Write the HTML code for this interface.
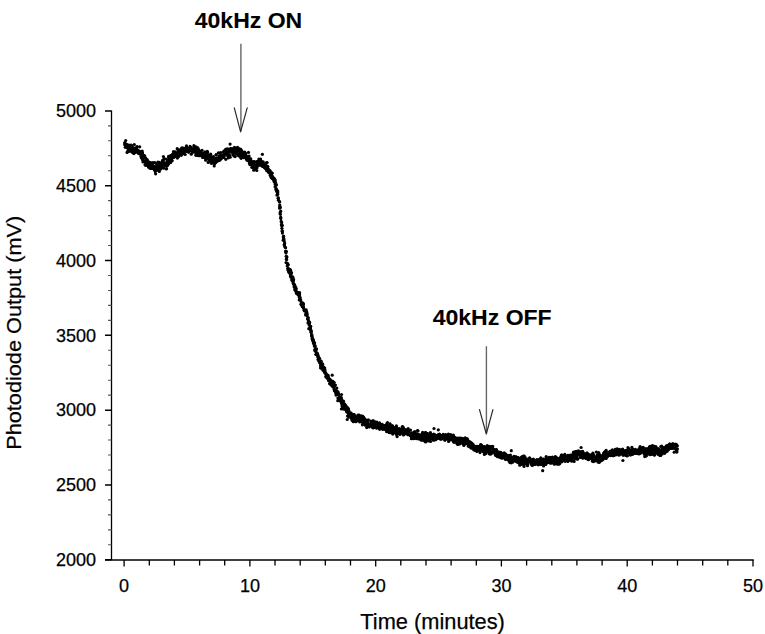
<!DOCTYPE html>
<html><head><meta charset="utf-8"><style>
html,body{margin:0;padding:0;background:#fff;}
svg{display:block;}
text{font-family:"Liberation Sans",Arial,sans-serif;fill:#000;stroke:#000;stroke-width:0.25px;}
.b{stroke-width:0.1px;}
</style></head><body>
<svg width="765" height="634" viewBox="0 0 765 634">
<rect width="765" height="634" fill="#fff"/>
<g stroke="#000" fill="none">
<path d="M111.5,110.5V560" stroke-width="1.3"/>
<path d="M105,560H753.8" stroke-width="1.7"/>
<path d="M105,559.75H111.5 M105,484.94H111.5 M105,410.13H111.5 M105,335.32H111.5 M105,260.52H111.5 M105,185.71H111.5 M105,110.90H111.5" stroke-width="1.5"/>
<path d="M108,544.79H111.5 M108,529.83H111.5 M108,514.87H111.5 M108,499.90H111.5 M108,469.98H111.5 M108,455.02H111.5 M108,440.06H111.5 M108,425.10H111.5 M108,395.17H111.5 M108,380.21H111.5 M108,365.25H111.5 M108,350.29H111.5 M108,320.36H111.5 M108,305.40H111.5 M108,290.44H111.5 M108,275.48H111.5 M108,245.56H111.5 M108,230.59H111.5 M108,215.63H111.5 M108,200.67H111.5 M108,170.75H111.5 M108,155.79H111.5 M108,140.82H111.5 M108,125.86H111.5" stroke-width="1.1" stroke="#555"/>
<path d="M124.1,560V566.5 M149.3,560V565.5 M174.4,560V565.5 M199.6,560V565.5 M224.7,560V565.5 M249.9,560V566.5 M275.0,560V565.5 M300.2,560V565.5 M325.3,560V565.5 M350.5,560V565.5 M375.7,560V566.5 M400.8,560V565.5 M426.0,560V565.5 M451.1,560V565.5 M476.3,560V565.5 M501.4,560V566.5 M526.6,560V565.5 M551.8,560V565.5 M576.9,560V565.5 M602.1,560V565.5 M627.2,560V566.5 M652.4,560V565.5 M677.5,560V565.5 M702.7,560V565.5 M727.8,560V565.5 M753.0,560V566.5" stroke-width="1.3"/>
</g>
<g font-size="18" text-anchor="end"><text x="96" y="566.0">2000</text><text x="96" y="491.2">2500</text><text x="96" y="416.4">3000</text><text x="96" y="341.6">3500</text><text x="96" y="266.8">4000</text><text x="96" y="192.0">4500</text><text x="96" y="117.2">5000</text></g>
<g font-size="18" text-anchor="middle"><text x="124.1" y="591.7">0</text><text x="249.9" y="591.7">10</text><text x="375.7" y="591.7">20</text><text x="501.4" y="591.7">30</text><text x="627.2" y="591.7">40</text><text x="753.0" y="591.7">50</text></g>
<text x="432.6" y="628.5" font-size="21.8" text-anchor="middle">Time (minutes)</text>
<text transform="translate(20.7,332.8) rotate(-90)" font-size="20.8" text-anchor="middle" textLength="234" lengthAdjust="spacingAndGlyphs">Photodiode Output (mV)</text>
<text class="b" x="248.5" y="27.7" font-size="22.8" font-weight="bold" text-anchor="middle" textLength="107.5" lengthAdjust="spacingAndGlyphs">40kHz ON</text>
<text class="b" x="492.2" y="324.6" font-size="22.8" font-weight="bold" text-anchor="middle" textLength="119" lengthAdjust="spacingAndGlyphs">40kHz OFF</text>
<g stroke="#666" stroke-width="1.4" fill="none">
<path d="M240.9,43.8V131"/>
<path d="M486.4,346.2V433"/>
</g>
<g stroke="#2a2a2a" stroke-width="1.2" fill="none" stroke-linejoin="round" stroke-linecap="round">
<path d="M234.3,107.8L240.6,131.8L247.2,107.8"/>
<path d="M479.5,409.6L486.3,434.0L492.9,409.6"/>
</g>
<g fill="#000"><circle cx="124.7" cy="144.8" r="1.6"/><circle cx="124.9" cy="142.7" r="1.6"/><circle cx="124.8" cy="143.1" r="1.6"/><circle cx="125.8" cy="145.0" r="1.6"/><circle cx="126.0" cy="144.9" r="1.6"/><circle cx="126.0" cy="145.1" r="1.6"/><circle cx="125.3" cy="147.3" r="1.6"/><circle cx="126.4" cy="146.6" r="1.6"/><circle cx="125.7" cy="140.5" r="1.6"/><circle cx="126.2" cy="144.5" r="1.6"/><circle cx="126.9" cy="146.0" r="1.6"/><circle cx="127.2" cy="144.5" r="1.6"/><circle cx="127.3" cy="148.0" r="1.6"/><circle cx="127.1" cy="152.4" r="1.6"/><circle cx="127.8" cy="151.0" r="1.6"/><circle cx="127.6" cy="145.3" r="1.6"/><circle cx="127.9" cy="147.3" r="1.6"/><circle cx="128.5" cy="148.5" r="1.6"/><circle cx="128.2" cy="145.5" r="1.6"/><circle cx="128.4" cy="151.1" r="1.6"/><circle cx="128.5" cy="148.8" r="1.6"/><circle cx="129.2" cy="145.1" r="1.6"/><circle cx="129.2" cy="151.3" r="1.6"/><circle cx="128.6" cy="148.1" r="1.6"/><circle cx="129.6" cy="147.2" r="1.6"/><circle cx="130.0" cy="148.7" r="1.6"/><circle cx="129.4" cy="150.5" r="1.6"/><circle cx="130.5" cy="150.8" r="1.6"/><circle cx="131.0" cy="149.9" r="1.6"/><circle cx="130.6" cy="147.0" r="1.6"/><circle cx="131.0" cy="148.4" r="1.6"/><circle cx="130.8" cy="147.3" r="1.6"/><circle cx="130.8" cy="148.8" r="1.6"/><circle cx="131.9" cy="146.0" r="1.6"/><circle cx="131.0" cy="150.3" r="1.6"/><circle cx="132.4" cy="151.0" r="1.6"/><circle cx="131.2" cy="145.0" r="1.6"/><circle cx="132.3" cy="148.1" r="1.6"/><circle cx="132.0" cy="151.9" r="1.6"/><circle cx="133.0" cy="149.9" r="1.6"/><circle cx="132.9" cy="150.5" r="1.6"/><circle cx="133.6" cy="150.9" r="1.6"/><circle cx="133.4" cy="150.7" r="1.6"/><circle cx="132.8" cy="152.6" r="1.6"/><circle cx="134.0" cy="150.7" r="1.6"/><circle cx="133.0" cy="147.6" r="1.6"/><circle cx="134.3" cy="144.5" r="1.6"/><circle cx="134.1" cy="152.0" r="1.6"/><circle cx="133.9" cy="153.6" r="1.6"/><circle cx="134.8" cy="148.8" r="1.6"/><circle cx="134.9" cy="151.0" r="1.6"/><circle cx="135.0" cy="152.4" r="1.6"/><circle cx="134.9" cy="148.1" r="1.6"/><circle cx="135.8" cy="149.4" r="1.6"/><circle cx="135.2" cy="152.0" r="1.6"/><circle cx="136.4" cy="148.3" r="1.6"/><circle cx="135.4" cy="149.3" r="1.6"/><circle cx="136.1" cy="148.9" r="1.6"/><circle cx="137.0" cy="147.1" r="1.6"/><circle cx="137.1" cy="146.5" r="1.6"/><circle cx="136.5" cy="151.6" r="1.6"/><circle cx="137.5" cy="152.3" r="1.6"/><circle cx="137.3" cy="150.6" r="1.6"/><circle cx="137.5" cy="151.8" r="1.6"/><circle cx="137.5" cy="151.2" r="1.6"/><circle cx="138.0" cy="150.7" r="1.6"/><circle cx="138.3" cy="152.2" r="1.6"/><circle cx="139.0" cy="151.8" r="1.6"/><circle cx="138.2" cy="150.3" r="1.6"/><circle cx="138.6" cy="153.4" r="1.6"/><circle cx="138.7" cy="152.3" r="1.6"/><circle cx="139.7" cy="146.8" r="1.6"/><circle cx="138.8" cy="152.3" r="1.6"/><circle cx="139.6" cy="152.5" r="1.6"/><circle cx="139.4" cy="153.7" r="1.6"/><circle cx="139.9" cy="151.5" r="1.6"/><circle cx="141.0" cy="153.7" r="1.6"/><circle cx="140.0" cy="153.1" r="1.6"/><circle cx="140.3" cy="153.5" r="1.6"/><circle cx="139.5" cy="152.9" r="1.6"/><circle cx="141.2" cy="151.7" r="1.6"/><circle cx="141.0" cy="156.6" r="1.6"/><circle cx="141.5" cy="158.0" r="1.6"/><circle cx="140.7" cy="154.4" r="1.6"/><circle cx="141.5" cy="156.8" r="1.6"/><circle cx="142.2" cy="151.1" r="1.6"/><circle cx="142.4" cy="152.9" r="1.6"/><circle cx="142.5" cy="153.1" r="1.6"/><circle cx="142.5" cy="159.7" r="1.6"/><circle cx="142.5" cy="157.7" r="1.6"/><circle cx="143.1" cy="157.9" r="1.6"/><circle cx="143.0" cy="161.9" r="1.6"/><circle cx="143.6" cy="157.5" r="1.6"/><circle cx="144.5" cy="155.5" r="1.6"/><circle cx="144.0" cy="158.2" r="1.6"/><circle cx="143.9" cy="161.3" r="1.6"/><circle cx="144.1" cy="161.5" r="1.6"/><circle cx="143.6" cy="155.5" r="1.6"/><circle cx="144.6" cy="157.3" r="1.6"/><circle cx="144.2" cy="156.1" r="1.6"/><circle cx="145.3" cy="162.4" r="1.6"/><circle cx="145.6" cy="158.0" r="1.6"/><circle cx="145.2" cy="157.7" r="1.6"/><circle cx="145.7" cy="165.0" r="1.6"/><circle cx="145.2" cy="165.0" r="1.6"/><circle cx="146.2" cy="160.8" r="1.6"/><circle cx="145.2" cy="164.8" r="1.6"/><circle cx="146.2" cy="160.1" r="1.6"/><circle cx="146.6" cy="162.7" r="1.6"/><circle cx="147.2" cy="159.6" r="1.6"/><circle cx="147.3" cy="165.4" r="1.6"/><circle cx="147.6" cy="161.9" r="1.6"/><circle cx="146.9" cy="164.8" r="1.6"/><circle cx="147.4" cy="162.9" r="1.6"/><circle cx="148.2" cy="162.2" r="1.6"/><circle cx="146.9" cy="162.1" r="1.6"/><circle cx="147.3" cy="165.1" r="1.6"/><circle cx="148.3" cy="162.0" r="1.6"/><circle cx="148.4" cy="165.5" r="1.6"/><circle cx="148.6" cy="166.8" r="1.6"/><circle cx="148.8" cy="166.4" r="1.6"/><circle cx="149.6" cy="167.9" r="1.6"/><circle cx="148.9" cy="166.4" r="1.6"/><circle cx="148.6" cy="161.9" r="1.6"/><circle cx="148.8" cy="167.2" r="1.6"/><circle cx="149.3" cy="164.8" r="1.6"/><circle cx="149.9" cy="164.9" r="1.6"/><circle cx="150.0" cy="165.7" r="1.6"/><circle cx="151.1" cy="165.5" r="1.6"/><circle cx="150.8" cy="168.0" r="1.6"/><circle cx="150.7" cy="162.7" r="1.6"/><circle cx="150.8" cy="168.5" r="1.6"/><circle cx="150.5" cy="164.6" r="1.6"/><circle cx="151.8" cy="168.2" r="1.6"/><circle cx="151.6" cy="168.5" r="1.6"/><circle cx="151.9" cy="163.7" r="1.6"/><circle cx="151.4" cy="165.2" r="1.6"/><circle cx="152.6" cy="165.6" r="1.6"/><circle cx="152.0" cy="165.2" r="1.6"/><circle cx="152.0" cy="166.9" r="1.6"/><circle cx="152.3" cy="168.2" r="1.6"/><circle cx="152.1" cy="168.2" r="1.6"/><circle cx="152.9" cy="162.5" r="1.6"/><circle cx="153.7" cy="166.8" r="1.6"/><circle cx="152.7" cy="165.4" r="1.6"/><circle cx="153.9" cy="166.5" r="1.6"/><circle cx="154.3" cy="169.7" r="1.6"/><circle cx="154.5" cy="168.7" r="1.6"/><circle cx="154.9" cy="169.7" r="1.6"/><circle cx="154.8" cy="162.6" r="1.6"/><circle cx="155.2" cy="171.6" r="1.6"/><circle cx="154.9" cy="167.0" r="1.6"/><circle cx="156.0" cy="163.5" r="1.6"/><circle cx="155.6" cy="173.8" r="1.6"/><circle cx="155.2" cy="169.8" r="1.6"/><circle cx="156.6" cy="167.6" r="1.6"/><circle cx="156.2" cy="170.2" r="1.6"/><circle cx="155.8" cy="167.6" r="1.6"/><circle cx="156.5" cy="169.8" r="1.6"/><circle cx="156.6" cy="167.2" r="1.6"/><circle cx="156.4" cy="166.8" r="1.6"/><circle cx="157.4" cy="167.8" r="1.6"/><circle cx="156.9" cy="165.5" r="1.6"/><circle cx="158.5" cy="170.2" r="1.6"/><circle cx="157.9" cy="162.1" r="1.6"/><circle cx="158.0" cy="168.5" r="1.6"/><circle cx="158.7" cy="168.3" r="1.6"/><circle cx="158.2" cy="168.4" r="1.6"/><circle cx="157.6" cy="169.6" r="1.6"/><circle cx="158.7" cy="165.1" r="1.6"/><circle cx="159.3" cy="171.4" r="1.6"/><circle cx="158.4" cy="164.9" r="1.6"/><circle cx="159.3" cy="167.0" r="1.6"/><circle cx="159.2" cy="163.8" r="1.6"/><circle cx="160.4" cy="169.1" r="1.6"/><circle cx="159.3" cy="162.4" r="1.6"/><circle cx="160.7" cy="168.8" r="1.6"/><circle cx="160.9" cy="168.2" r="1.6"/><circle cx="160.1" cy="166.5" r="1.6"/><circle cx="159.7" cy="163.5" r="1.6"/><circle cx="160.8" cy="167.0" r="1.6"/><circle cx="160.7" cy="165.0" r="1.6"/><circle cx="161.4" cy="166.3" r="1.6"/><circle cx="161.7" cy="165.7" r="1.6"/><circle cx="161.5" cy="167.3" r="1.6"/><circle cx="161.8" cy="162.3" r="1.6"/><circle cx="161.7" cy="164.7" r="1.6"/><circle cx="162.2" cy="165.0" r="1.6"/><circle cx="162.4" cy="164.9" r="1.6"/><circle cx="162.5" cy="160.4" r="1.6"/><circle cx="163.0" cy="167.3" r="1.6"/><circle cx="163.2" cy="163.4" r="1.6"/><circle cx="163.4" cy="160.9" r="1.6"/><circle cx="162.6" cy="163.9" r="1.6"/><circle cx="163.2" cy="165.8" r="1.6"/><circle cx="163.4" cy="156.5" r="1.6"/><circle cx="163.6" cy="168.2" r="1.6"/><circle cx="164.0" cy="158.7" r="1.6"/><circle cx="164.1" cy="164.5" r="1.6"/><circle cx="164.8" cy="163.3" r="1.6"/><circle cx="165.4" cy="164.8" r="1.6"/><circle cx="165.0" cy="164.4" r="1.6"/><circle cx="165.9" cy="165.5" r="1.6"/><circle cx="165.8" cy="159.0" r="1.6"/><circle cx="165.5" cy="164.6" r="1.6"/><circle cx="165.7" cy="165.6" r="1.6"/><circle cx="166.2" cy="165.1" r="1.6"/><circle cx="166.1" cy="168.8" r="1.6"/><circle cx="166.9" cy="161.8" r="1.6"/><circle cx="166.6" cy="168.7" r="1.6"/><circle cx="166.7" cy="164.9" r="1.6"/><circle cx="167.4" cy="162.5" r="1.6"/><circle cx="166.7" cy="163.1" r="1.6"/><circle cx="167.5" cy="165.6" r="1.6"/><circle cx="167.9" cy="162.5" r="1.6"/><circle cx="168.1" cy="163.9" r="1.6"/><circle cx="168.1" cy="162.5" r="1.6"/><circle cx="168.1" cy="164.2" r="1.6"/><circle cx="168.0" cy="160.4" r="1.6"/><circle cx="168.6" cy="158.0" r="1.6"/><circle cx="168.6" cy="156.4" r="1.6"/><circle cx="168.7" cy="163.4" r="1.6"/><circle cx="169.4" cy="161.5" r="1.6"/><circle cx="169.3" cy="157.7" r="1.6"/><circle cx="170.3" cy="162.5" r="1.6"/><circle cx="170.2" cy="158.8" r="1.6"/><circle cx="169.9" cy="156.3" r="1.6"/><circle cx="170.5" cy="162.6" r="1.6"/><circle cx="169.6" cy="160.0" r="1.6"/><circle cx="170.9" cy="155.7" r="1.6"/><circle cx="170.1" cy="157.0" r="1.6"/><circle cx="170.7" cy="155.9" r="1.6"/><circle cx="171.2" cy="159.4" r="1.6"/><circle cx="171.7" cy="160.1" r="1.6"/><circle cx="172.2" cy="160.8" r="1.6"/><circle cx="171.3" cy="156.9" r="1.6"/><circle cx="171.6" cy="155.5" r="1.6"/><circle cx="172.2" cy="157.7" r="1.6"/><circle cx="172.6" cy="154.0" r="1.6"/><circle cx="172.1" cy="157.3" r="1.6"/><circle cx="172.7" cy="156.5" r="1.6"/><circle cx="173.0" cy="155.3" r="1.6"/><circle cx="173.5" cy="157.5" r="1.6"/><circle cx="173.4" cy="155.2" r="1.6"/><circle cx="173.5" cy="151.7" r="1.6"/><circle cx="173.4" cy="156.3" r="1.6"/><circle cx="173.4" cy="156.4" r="1.6"/><circle cx="174.3" cy="153.0" r="1.6"/><circle cx="174.3" cy="155.0" r="1.6"/><circle cx="174.8" cy="156.8" r="1.6"/><circle cx="174.8" cy="153.5" r="1.6"/><circle cx="174.9" cy="155.0" r="1.6"/><circle cx="175.5" cy="155.6" r="1.6"/><circle cx="175.1" cy="151.9" r="1.6"/><circle cx="175.5" cy="153.0" r="1.6"/><circle cx="175.4" cy="154.2" r="1.6"/><circle cx="175.8" cy="154.5" r="1.6"/><circle cx="176.4" cy="153.2" r="1.6"/><circle cx="177.3" cy="153.2" r="1.6"/><circle cx="177.0" cy="154.0" r="1.6"/><circle cx="177.2" cy="148.7" r="1.6"/><circle cx="176.7" cy="153.9" r="1.6"/><circle cx="177.4" cy="158.1" r="1.6"/><circle cx="177.5" cy="155.8" r="1.6"/><circle cx="177.9" cy="154.9" r="1.6"/><circle cx="178.0" cy="152.4" r="1.6"/><circle cx="178.2" cy="150.2" r="1.6"/><circle cx="178.7" cy="150.2" r="1.6"/><circle cx="178.5" cy="156.7" r="1.6"/><circle cx="178.5" cy="152.1" r="1.6"/><circle cx="179.3" cy="152.0" r="1.6"/><circle cx="178.7" cy="152.3" r="1.6"/><circle cx="179.4" cy="153.1" r="1.6"/><circle cx="179.1" cy="155.0" r="1.6"/><circle cx="180.3" cy="151.3" r="1.6"/><circle cx="179.9" cy="150.3" r="1.6"/><circle cx="180.6" cy="149.6" r="1.6"/><circle cx="180.5" cy="150.0" r="1.6"/><circle cx="180.1" cy="152.4" r="1.6"/><circle cx="181.1" cy="151.0" r="1.6"/><circle cx="180.5" cy="152.6" r="1.6"/><circle cx="181.0" cy="151.6" r="1.6"/><circle cx="181.8" cy="153.2" r="1.6"/><circle cx="181.2" cy="155.3" r="1.6"/><circle cx="181.6" cy="152.5" r="1.6"/><circle cx="181.5" cy="150.9" r="1.6"/><circle cx="181.3" cy="154.5" r="1.6"/><circle cx="182.7" cy="148.6" r="1.6"/><circle cx="181.8" cy="147.8" r="1.6"/><circle cx="183.1" cy="150.0" r="1.6"/><circle cx="182.8" cy="150.3" r="1.6"/><circle cx="183.0" cy="148.8" r="1.6"/><circle cx="183.2" cy="148.0" r="1.6"/><circle cx="183.4" cy="151.4" r="1.6"/><circle cx="183.8" cy="150.2" r="1.6"/><circle cx="183.4" cy="150.9" r="1.6"/><circle cx="183.8" cy="153.7" r="1.6"/><circle cx="184.5" cy="150.1" r="1.6"/><circle cx="184.2" cy="148.8" r="1.6"/><circle cx="184.2" cy="149.5" r="1.6"/><circle cx="184.9" cy="151.2" r="1.6"/><circle cx="185.2" cy="154.5" r="1.6"/><circle cx="184.9" cy="150.0" r="1.6"/><circle cx="186.5" cy="145.9" r="1.6"/><circle cx="185.4" cy="150.1" r="1.6"/><circle cx="185.9" cy="150.6" r="1.6"/><circle cx="185.9" cy="150.4" r="1.6"/><circle cx="186.2" cy="151.3" r="1.6"/><circle cx="185.6" cy="147.8" r="1.6"/><circle cx="186.6" cy="147.5" r="1.6"/><circle cx="186.4" cy="150.9" r="1.6"/><circle cx="186.7" cy="150.9" r="1.6"/><circle cx="187.5" cy="150.2" r="1.6"/><circle cx="187.6" cy="149.4" r="1.6"/><circle cx="187.0" cy="149.5" r="1.6"/><circle cx="188.0" cy="148.5" r="1.6"/><circle cx="188.0" cy="151.0" r="1.6"/><circle cx="187.8" cy="150.7" r="1.6"/><circle cx="189.1" cy="148.5" r="1.6"/><circle cx="188.7" cy="149.2" r="1.6"/><circle cx="189.4" cy="150.1" r="1.6"/><circle cx="189.4" cy="148.3" r="1.6"/><circle cx="189.2" cy="149.6" r="1.6"/><circle cx="188.7" cy="152.3" r="1.6"/><circle cx="190.0" cy="146.4" r="1.6"/><circle cx="190.1" cy="149.4" r="1.6"/><circle cx="190.2" cy="150.4" r="1.6"/><circle cx="189.6" cy="149.4" r="1.6"/><circle cx="191.0" cy="148.7" r="1.6"/><circle cx="190.2" cy="147.2" r="1.6"/><circle cx="190.3" cy="150.5" r="1.6"/><circle cx="191.7" cy="150.7" r="1.6"/><circle cx="191.3" cy="154.2" r="1.6"/><circle cx="191.2" cy="148.7" r="1.6"/><circle cx="191.8" cy="151.1" r="1.6"/><circle cx="191.4" cy="147.7" r="1.6"/><circle cx="192.1" cy="150.5" r="1.6"/><circle cx="191.7" cy="149.6" r="1.6"/><circle cx="192.2" cy="151.0" r="1.6"/><circle cx="192.6" cy="149.9" r="1.6"/><circle cx="192.7" cy="152.2" r="1.6"/><circle cx="193.6" cy="149.3" r="1.6"/><circle cx="193.5" cy="148.5" r="1.6"/><circle cx="193.4" cy="151.7" r="1.6"/><circle cx="194.2" cy="149.3" r="1.6"/><circle cx="193.8" cy="150.5" r="1.6"/><circle cx="193.4" cy="150.1" r="1.6"/><circle cx="193.9" cy="150.9" r="1.6"/><circle cx="193.9" cy="145.7" r="1.6"/><circle cx="194.6" cy="150.7" r="1.6"/><circle cx="194.6" cy="152.1" r="1.6"/><circle cx="194.9" cy="148.9" r="1.6"/><circle cx="195.4" cy="146.9" r="1.6"/><circle cx="195.1" cy="150.4" r="1.6"/><circle cx="195.9" cy="150.2" r="1.6"/><circle cx="195.9" cy="149.3" r="1.6"/><circle cx="196.1" cy="154.1" r="1.6"/><circle cx="195.9" cy="155.3" r="1.6"/><circle cx="196.1" cy="151.0" r="1.6"/><circle cx="196.7" cy="153.0" r="1.6"/><circle cx="196.3" cy="147.1" r="1.6"/><circle cx="197.2" cy="152.7" r="1.6"/><circle cx="197.4" cy="155.4" r="1.6"/><circle cx="197.5" cy="151.9" r="1.6"/><circle cx="198.0" cy="152.2" r="1.6"/><circle cx="198.5" cy="149.4" r="1.6"/><circle cx="197.8" cy="147.8" r="1.6"/><circle cx="198.5" cy="151.2" r="1.6"/><circle cx="198.8" cy="155.7" r="1.6"/><circle cx="198.6" cy="151.6" r="1.6"/><circle cx="198.6" cy="150.7" r="1.6"/><circle cx="198.7" cy="153.4" r="1.6"/><circle cx="199.2" cy="152.5" r="1.6"/><circle cx="199.3" cy="154.0" r="1.6"/><circle cx="199.8" cy="152.4" r="1.6"/><circle cx="200.1" cy="152.5" r="1.6"/><circle cx="199.5" cy="155.2" r="1.6"/><circle cx="200.4" cy="151.4" r="1.6"/><circle cx="200.8" cy="153.6" r="1.6"/><circle cx="200.0" cy="155.7" r="1.6"/><circle cx="200.9" cy="154.7" r="1.6"/><circle cx="201.1" cy="153.2" r="1.6"/><circle cx="200.6" cy="155.2" r="1.6"/><circle cx="201.4" cy="153.2" r="1.6"/><circle cx="201.7" cy="153.9" r="1.6"/><circle cx="202.1" cy="153.3" r="1.6"/><circle cx="202.0" cy="150.3" r="1.6"/><circle cx="202.0" cy="155.4" r="1.6"/><circle cx="202.9" cy="153.7" r="1.6"/><circle cx="202.6" cy="157.4" r="1.6"/><circle cx="202.7" cy="156.0" r="1.6"/><circle cx="203.7" cy="154.8" r="1.6"/><circle cx="203.7" cy="153.5" r="1.6"/><circle cx="203.5" cy="154.8" r="1.6"/><circle cx="203.6" cy="157.3" r="1.6"/><circle cx="204.8" cy="153.8" r="1.6"/><circle cx="203.8" cy="156.1" r="1.6"/><circle cx="203.8" cy="156.2" r="1.6"/><circle cx="204.6" cy="154.7" r="1.6"/><circle cx="204.8" cy="152.1" r="1.6"/><circle cx="205.1" cy="152.2" r="1.6"/><circle cx="204.7" cy="154.2" r="1.6"/><circle cx="205.0" cy="157.2" r="1.6"/><circle cx="205.4" cy="154.6" r="1.6"/><circle cx="205.8" cy="158.8" r="1.6"/><circle cx="205.8" cy="156.3" r="1.6"/><circle cx="206.5" cy="156.1" r="1.6"/><circle cx="205.7" cy="160.2" r="1.6"/><circle cx="207.3" cy="151.4" r="1.6"/><circle cx="206.6" cy="156.6" r="1.6"/><circle cx="207.2" cy="157.4" r="1.6"/><circle cx="206.9" cy="153.8" r="1.6"/><circle cx="207.2" cy="158.5" r="1.6"/><circle cx="207.0" cy="154.2" r="1.6"/><circle cx="207.6" cy="152.4" r="1.6"/><circle cx="207.7" cy="155.9" r="1.6"/><circle cx="208.2" cy="155.5" r="1.6"/><circle cx="207.8" cy="156.3" r="1.6"/><circle cx="208.4" cy="155.9" r="1.6"/><circle cx="208.6" cy="159.2" r="1.6"/><circle cx="209.3" cy="161.5" r="1.6"/><circle cx="208.7" cy="157.0" r="1.6"/><circle cx="208.2" cy="162.4" r="1.6"/><circle cx="209.1" cy="158.2" r="1.6"/><circle cx="209.8" cy="155.3" r="1.6"/><circle cx="210.0" cy="158.4" r="1.6"/><circle cx="209.3" cy="159.2" r="1.6"/><circle cx="210.7" cy="154.2" r="1.6"/><circle cx="210.7" cy="159.1" r="1.6"/><circle cx="210.8" cy="159.8" r="1.6"/><circle cx="211.3" cy="158.2" r="1.6"/><circle cx="211.3" cy="157.9" r="1.6"/><circle cx="211.5" cy="156.9" r="1.6"/><circle cx="211.4" cy="163.3" r="1.6"/><circle cx="211.8" cy="158.7" r="1.6"/><circle cx="211.3" cy="157.1" r="1.6"/><circle cx="212.1" cy="161.6" r="1.6"/><circle cx="212.4" cy="160.6" r="1.6"/><circle cx="212.4" cy="162.9" r="1.6"/><circle cx="212.4" cy="158.0" r="1.6"/><circle cx="213.2" cy="159.7" r="1.6"/><circle cx="212.9" cy="158.1" r="1.6"/><circle cx="213.1" cy="161.3" r="1.6"/><circle cx="213.5" cy="156.6" r="1.6"/><circle cx="213.8" cy="160.3" r="1.6"/><circle cx="213.4" cy="161.9" r="1.6"/><circle cx="213.9" cy="159.1" r="1.6"/><circle cx="214.5" cy="163.5" r="1.6"/><circle cx="214.1" cy="161.3" r="1.6"/><circle cx="214.2" cy="166.0" r="1.6"/><circle cx="214.6" cy="163.4" r="1.6"/><circle cx="214.7" cy="162.5" r="1.6"/><circle cx="216.1" cy="154.7" r="1.6"/><circle cx="215.2" cy="161.7" r="1.6"/><circle cx="215.6" cy="158.5" r="1.6"/><circle cx="216.7" cy="160.3" r="1.6"/><circle cx="215.3" cy="162.2" r="1.6"/><circle cx="215.5" cy="162.8" r="1.6"/><circle cx="216.2" cy="160.0" r="1.6"/><circle cx="217.1" cy="159.8" r="1.6"/><circle cx="216.2" cy="155.0" r="1.6"/><circle cx="217.5" cy="161.1" r="1.6"/><circle cx="216.9" cy="161.3" r="1.6"/><circle cx="217.6" cy="160.6" r="1.6"/><circle cx="216.7" cy="158.0" r="1.6"/><circle cx="218.2" cy="160.5" r="1.6"/><circle cx="218.4" cy="152.8" r="1.6"/><circle cx="218.3" cy="159.6" r="1.6"/><circle cx="219.4" cy="155.8" r="1.6"/><circle cx="218.5" cy="158.2" r="1.6"/><circle cx="219.2" cy="157.0" r="1.6"/><circle cx="219.5" cy="156.1" r="1.6"/><circle cx="219.3" cy="156.7" r="1.6"/><circle cx="219.5" cy="156.2" r="1.6"/><circle cx="219.0" cy="160.4" r="1.6"/><circle cx="219.9" cy="156.4" r="1.6"/><circle cx="220.1" cy="160.0" r="1.6"/><circle cx="219.8" cy="157.3" r="1.6"/><circle cx="220.6" cy="158.7" r="1.6"/><circle cx="220.5" cy="152.7" r="1.6"/><circle cx="221.3" cy="158.1" r="1.6"/><circle cx="221.0" cy="156.7" r="1.6"/><circle cx="221.3" cy="156.3" r="1.6"/><circle cx="221.0" cy="155.5" r="1.6"/><circle cx="221.4" cy="155.6" r="1.6"/><circle cx="221.3" cy="158.2" r="1.6"/><circle cx="221.5" cy="158.1" r="1.6"/><circle cx="221.8" cy="157.3" r="1.6"/><circle cx="222.9" cy="156.8" r="1.6"/><circle cx="222.3" cy="156.3" r="1.6"/><circle cx="222.9" cy="152.2" r="1.6"/><circle cx="222.8" cy="156.3" r="1.6"/><circle cx="223.0" cy="156.0" r="1.6"/><circle cx="223.7" cy="157.4" r="1.6"/><circle cx="224.0" cy="156.8" r="1.6"/><circle cx="223.7" cy="155.3" r="1.6"/><circle cx="223.9" cy="154.5" r="1.6"/><circle cx="224.1" cy="151.2" r="1.6"/><circle cx="224.3" cy="154.9" r="1.6"/><circle cx="224.2" cy="154.7" r="1.6"/><circle cx="225.0" cy="154.3" r="1.6"/><circle cx="225.8" cy="149.5" r="1.6"/><circle cx="225.1" cy="150.2" r="1.6"/><circle cx="225.8" cy="159.3" r="1.6"/><circle cx="224.6" cy="154.5" r="1.6"/><circle cx="226.0" cy="153.4" r="1.6"/><circle cx="226.2" cy="149.0" r="1.6"/><circle cx="226.5" cy="154.8" r="1.6"/><circle cx="226.4" cy="152.5" r="1.6"/><circle cx="226.9" cy="152.7" r="1.6"/><circle cx="226.9" cy="152.5" r="1.6"/><circle cx="226.1" cy="153.5" r="1.6"/><circle cx="227.3" cy="155.2" r="1.6"/><circle cx="227.0" cy="153.4" r="1.6"/><circle cx="227.8" cy="153.7" r="1.6"/><circle cx="228.3" cy="157.8" r="1.6"/><circle cx="227.6" cy="148.8" r="1.6"/><circle cx="228.5" cy="156.6" r="1.6"/><circle cx="228.8" cy="154.8" r="1.6"/><circle cx="228.4" cy="151.1" r="1.6"/><circle cx="229.2" cy="150.4" r="1.6"/><circle cx="228.3" cy="150.0" r="1.6"/><circle cx="230.2" cy="157.2" r="1.6"/><circle cx="229.1" cy="150.2" r="1.6"/><circle cx="229.7" cy="149.9" r="1.6"/><circle cx="230.3" cy="151.6" r="1.6"/><circle cx="229.6" cy="155.3" r="1.6"/><circle cx="230.0" cy="152.1" r="1.6"/><circle cx="230.4" cy="150.3" r="1.6"/><circle cx="230.7" cy="149.0" r="1.6"/><circle cx="230.1" cy="144.1" r="1.6"/><circle cx="230.5" cy="148.6" r="1.6"/><circle cx="231.2" cy="151.1" r="1.6"/><circle cx="231.6" cy="151.3" r="1.6"/><circle cx="231.3" cy="148.8" r="1.6"/><circle cx="231.0" cy="150.4" r="1.6"/><circle cx="232.2" cy="152.5" r="1.6"/><circle cx="232.2" cy="150.4" r="1.6"/><circle cx="232.8" cy="151.0" r="1.6"/><circle cx="232.9" cy="152.6" r="1.6"/><circle cx="232.9" cy="154.7" r="1.6"/><circle cx="232.8" cy="149.9" r="1.6"/><circle cx="232.9" cy="148.7" r="1.6"/><circle cx="234.0" cy="155.9" r="1.6"/><circle cx="233.6" cy="152.5" r="1.6"/><circle cx="234.3" cy="153.2" r="1.6"/><circle cx="234.5" cy="147.4" r="1.6"/><circle cx="233.9" cy="152.2" r="1.6"/><circle cx="235.0" cy="151.2" r="1.6"/><circle cx="234.3" cy="150.0" r="1.6"/><circle cx="234.5" cy="148.6" r="1.6"/><circle cx="235.6" cy="149.2" r="1.6"/><circle cx="235.2" cy="156.6" r="1.6"/><circle cx="235.9" cy="151.8" r="1.6"/><circle cx="235.4" cy="152.0" r="1.6"/><circle cx="236.4" cy="152.5" r="1.6"/><circle cx="236.5" cy="151.1" r="1.6"/><circle cx="236.4" cy="150.4" r="1.6"/><circle cx="236.6" cy="154.1" r="1.6"/><circle cx="236.0" cy="150.7" r="1.6"/><circle cx="236.9" cy="149.5" r="1.6"/><circle cx="236.9" cy="152.8" r="1.6"/><circle cx="238.0" cy="152.4" r="1.6"/><circle cx="237.5" cy="147.3" r="1.6"/><circle cx="238.4" cy="151.4" r="1.6"/><circle cx="237.8" cy="148.8" r="1.6"/><circle cx="238.0" cy="149.1" r="1.6"/><circle cx="238.2" cy="152.9" r="1.6"/><circle cx="238.4" cy="152.7" r="1.6"/><circle cx="238.3" cy="155.5" r="1.6"/><circle cx="238.5" cy="148.4" r="1.6"/><circle cx="238.9" cy="151.0" r="1.6"/><circle cx="238.8" cy="152.1" r="1.6"/><circle cx="239.5" cy="150.5" r="1.6"/><circle cx="239.5" cy="156.3" r="1.6"/><circle cx="240.1" cy="153.1" r="1.6"/><circle cx="240.1" cy="153.2" r="1.6"/><circle cx="240.2" cy="155.1" r="1.6"/><circle cx="240.4" cy="149.0" r="1.6"/><circle cx="240.6" cy="151.9" r="1.6"/><circle cx="241.1" cy="152.5" r="1.6"/><circle cx="241.1" cy="158.3" r="1.6"/><circle cx="240.8" cy="151.6" r="1.6"/><circle cx="240.8" cy="149.6" r="1.6"/><circle cx="240.8" cy="154.8" r="1.6"/><circle cx="241.5" cy="150.5" r="1.6"/><circle cx="241.4" cy="155.4" r="1.6"/><circle cx="241.9" cy="153.6" r="1.6"/><circle cx="242.5" cy="157.0" r="1.6"/><circle cx="243.4" cy="156.5" r="1.6"/><circle cx="242.9" cy="155.0" r="1.6"/><circle cx="243.7" cy="157.4" r="1.6"/><circle cx="243.1" cy="155.7" r="1.6"/><circle cx="243.5" cy="155.0" r="1.6"/><circle cx="243.4" cy="152.7" r="1.6"/><circle cx="243.6" cy="152.4" r="1.6"/><circle cx="244.5" cy="156.2" r="1.6"/><circle cx="243.7" cy="157.7" r="1.6"/><circle cx="244.8" cy="152.2" r="1.6"/><circle cx="245.3" cy="156.9" r="1.6"/><circle cx="245.6" cy="153.7" r="1.6"/><circle cx="245.2" cy="156.6" r="1.6"/><circle cx="245.3" cy="156.4" r="1.6"/><circle cx="245.8" cy="153.9" r="1.6"/><circle cx="245.1" cy="154.3" r="1.6"/><circle cx="245.6" cy="155.7" r="1.6"/><circle cx="246.1" cy="157.2" r="1.6"/><circle cx="246.2" cy="156.0" r="1.6"/><circle cx="246.2" cy="158.6" r="1.6"/><circle cx="246.9" cy="157.6" r="1.6"/><circle cx="246.7" cy="159.8" r="1.6"/><circle cx="246.8" cy="158.7" r="1.6"/><circle cx="247.7" cy="157.6" r="1.6"/><circle cx="247.7" cy="156.7" r="1.6"/><circle cx="248.0" cy="158.6" r="1.6"/><circle cx="247.2" cy="159.5" r="1.6"/><circle cx="247.6" cy="160.6" r="1.6"/><circle cx="247.9" cy="158.6" r="1.6"/><circle cx="248.5" cy="158.6" r="1.6"/><circle cx="248.7" cy="158.4" r="1.6"/><circle cx="249.1" cy="159.4" r="1.6"/><circle cx="249.1" cy="156.0" r="1.6"/><circle cx="249.7" cy="159.8" r="1.6"/><circle cx="248.7" cy="160.1" r="1.6"/><circle cx="249.8" cy="162.0" r="1.6"/><circle cx="249.4" cy="163.1" r="1.6"/><circle cx="249.9" cy="164.6" r="1.6"/><circle cx="250.1" cy="162.2" r="1.6"/><circle cx="250.3" cy="159.1" r="1.6"/><circle cx="251.0" cy="163.2" r="1.6"/><circle cx="251.4" cy="163.5" r="1.6"/><circle cx="250.8" cy="158.9" r="1.6"/><circle cx="250.9" cy="161.1" r="1.6"/><circle cx="251.1" cy="163.9" r="1.6"/><circle cx="251.7" cy="162.5" r="1.6"/><circle cx="251.9" cy="163.0" r="1.6"/><circle cx="252.1" cy="165.2" r="1.6"/><circle cx="252.6" cy="162.5" r="1.6"/><circle cx="251.8" cy="167.3" r="1.6"/><circle cx="252.6" cy="167.1" r="1.6"/><circle cx="252.1" cy="164.1" r="1.6"/><circle cx="253.0" cy="161.6" r="1.6"/><circle cx="253.0" cy="167.4" r="1.6"/><circle cx="253.8" cy="170.2" r="1.6"/><circle cx="253.3" cy="162.2" r="1.6"/><circle cx="254.0" cy="168.8" r="1.6"/><circle cx="254.1" cy="162.7" r="1.6"/><circle cx="254.5" cy="168.5" r="1.6"/><circle cx="254.6" cy="165.0" r="1.6"/><circle cx="254.7" cy="168.5" r="1.6"/><circle cx="254.6" cy="161.5" r="1.6"/><circle cx="255.1" cy="167.7" r="1.6"/><circle cx="255.2" cy="168.8" r="1.6"/><circle cx="255.2" cy="166.1" r="1.6"/><circle cx="255.5" cy="167.8" r="1.6"/><circle cx="256.4" cy="165.5" r="1.6"/><circle cx="256.8" cy="170.5" r="1.6"/><circle cx="256.5" cy="167.6" r="1.6"/><circle cx="257.1" cy="165.1" r="1.6"/><circle cx="256.6" cy="162.5" r="1.6"/><circle cx="257.0" cy="167.8" r="1.6"/><circle cx="257.2" cy="165.2" r="1.6"/><circle cx="257.1" cy="164.2" r="1.6"/><circle cx="256.8" cy="165.4" r="1.6"/><circle cx="257.4" cy="161.4" r="1.6"/><circle cx="257.5" cy="161.8" r="1.6"/><circle cx="258.3" cy="165.2" r="1.6"/><circle cx="257.7" cy="164.9" r="1.6"/><circle cx="258.8" cy="162.0" r="1.6"/><circle cx="258.0" cy="161.6" r="1.6"/><circle cx="258.5" cy="163.6" r="1.6"/><circle cx="258.9" cy="159.0" r="1.6"/><circle cx="259.3" cy="159.9" r="1.6"/><circle cx="259.8" cy="160.4" r="1.6"/><circle cx="259.3" cy="161.0" r="1.6"/><circle cx="259.6" cy="165.1" r="1.6"/><circle cx="260.3" cy="163.7" r="1.6"/><circle cx="260.3" cy="159.6" r="1.6"/><circle cx="260.2" cy="161.6" r="1.6"/><circle cx="260.2" cy="163.8" r="1.6"/><circle cx="260.5" cy="161.5" r="1.6"/><circle cx="260.6" cy="159.1" r="1.6"/><circle cx="261.4" cy="165.5" r="1.6"/><circle cx="261.5" cy="161.3" r="1.6"/><circle cx="260.5" cy="163.5" r="1.6"/><circle cx="262.3" cy="163.8" r="1.6"/><circle cx="262.4" cy="166.0" r="1.6"/><circle cx="262.7" cy="162.6" r="1.6"/><circle cx="262.8" cy="164.9" r="1.6"/><circle cx="262.0" cy="162.9" r="1.6"/><circle cx="262.2" cy="163.5" r="1.6"/><circle cx="263.2" cy="161.9" r="1.6"/><circle cx="262.4" cy="166.2" r="1.6"/><circle cx="263.6" cy="166.6" r="1.6"/><circle cx="263.1" cy="166.0" r="1.6"/><circle cx="264.6" cy="167.8" r="1.6"/><circle cx="263.9" cy="164.8" r="1.6"/><circle cx="264.1" cy="166.2" r="1.6"/><circle cx="264.8" cy="164.6" r="1.6"/><circle cx="264.1" cy="165.9" r="1.6"/><circle cx="264.6" cy="165.8" r="1.6"/><circle cx="265.1" cy="167.7" r="1.6"/><circle cx="265.7" cy="164.1" r="1.6"/><circle cx="265.5" cy="168.5" r="1.6"/><circle cx="265.4" cy="166.1" r="1.6"/><circle cx="266.3" cy="167.9" r="1.6"/><circle cx="266.2" cy="162.9" r="1.6"/><circle cx="265.7" cy="166.2" r="1.6"/><circle cx="266.6" cy="170.6" r="1.6"/><circle cx="266.3" cy="168.5" r="1.6"/><circle cx="267.1" cy="162.5" r="1.6"/><circle cx="266.7" cy="166.7" r="1.6"/><circle cx="267.0" cy="166.8" r="1.6"/><circle cx="267.6" cy="166.3" r="1.6"/><circle cx="267.8" cy="167.0" r="1.6"/><circle cx="267.6" cy="169.3" r="1.6"/><circle cx="267.8" cy="169.4" r="1.6"/><circle cx="268.8" cy="169.5" r="1.6"/><circle cx="268.3" cy="171.1" r="1.6"/><circle cx="268.5" cy="172.1" r="1.6"/><circle cx="268.3" cy="171.9" r="1.6"/><circle cx="268.8" cy="170.3" r="1.6"/><circle cx="269.9" cy="170.7" r="1.6"/><circle cx="270.1" cy="173.4" r="1.6"/><circle cx="270.2" cy="171.4" r="1.6"/><circle cx="270.3" cy="175.3" r="1.6"/><circle cx="270.0" cy="173.1" r="1.6"/><circle cx="271.2" cy="173.8" r="1.6"/><circle cx="270.2" cy="172.9" r="1.6"/><circle cx="270.8" cy="174.6" r="1.6"/><circle cx="270.9" cy="176.9" r="1.6"/><circle cx="270.9" cy="175.3" r="1.6"/><circle cx="271.8" cy="173.3" r="1.6"/><circle cx="271.8" cy="177.8" r="1.6"/><circle cx="271.1" cy="173.7" r="1.6"/><circle cx="271.4" cy="172.8" r="1.6"/><circle cx="272.2" cy="173.0" r="1.6"/><circle cx="272.4" cy="178.2" r="1.6"/><circle cx="271.8" cy="175.8" r="1.6"/><circle cx="271.8" cy="177.9" r="1.6"/><circle cx="272.5" cy="176.7" r="1.6"/><circle cx="273.0" cy="178.4" r="1.6"/><circle cx="273.1" cy="178.0" r="1.6"/><circle cx="273.2" cy="178.5" r="1.6"/><circle cx="273.1" cy="178.9" r="1.6"/><circle cx="273.0" cy="178.4" r="1.6"/><circle cx="274.8" cy="179.7" r="1.6"/><circle cx="273.7" cy="180.4" r="1.6"/><circle cx="274.0" cy="178.0" r="1.6"/><circle cx="274.3" cy="182.1" r="1.6"/><circle cx="275.0" cy="181.3" r="1.6"/><circle cx="274.6" cy="180.3" r="1.6"/><circle cx="275.7" cy="182.8" r="1.6"/><circle cx="275.0" cy="179.8" r="1.6"/><circle cx="275.1" cy="186.7" r="1.6"/><circle cx="275.3" cy="184.3" r="1.6"/><circle cx="276.1" cy="185.2" r="1.6"/><circle cx="276.1" cy="184.3" r="1.6"/><circle cx="276.0" cy="189.8" r="1.6"/><circle cx="276.3" cy="189.4" r="1.6"/><circle cx="276.1" cy="188.5" r="1.6"/><circle cx="277.1" cy="191.3" r="1.6"/><circle cx="276.8" cy="191.4" r="1.6"/><circle cx="277.6" cy="190.8" r="1.6"/><circle cx="277.8" cy="192.0" r="1.6"/><circle cx="277.5" cy="194.4" r="1.6"/><circle cx="276.9" cy="195.1" r="1.6"/><circle cx="277.8" cy="194.0" r="1.6"/><circle cx="278.2" cy="198.2" r="1.6"/><circle cx="278.4" cy="200.2" r="1.6"/><circle cx="278.3" cy="197.9" r="1.6"/><circle cx="279.6" cy="202.0" r="1.6"/><circle cx="279.6" cy="201.7" r="1.6"/><circle cx="279.7" cy="205.0" r="1.6"/><circle cx="279.9" cy="206.6" r="1.6"/><circle cx="280.3" cy="207.5" r="1.6"/><circle cx="279.6" cy="208.2" r="1.6"/><circle cx="280.7" cy="211.2" r="1.6"/><circle cx="280.0" cy="212.8" r="1.6"/><circle cx="280.4" cy="214.3" r="1.6"/><circle cx="280.7" cy="217.2" r="1.6"/><circle cx="280.8" cy="218.6" r="1.6"/><circle cx="281.2" cy="221.4" r="1.6"/><circle cx="281.4" cy="224.7" r="1.6"/><circle cx="281.7" cy="222.6" r="1.6"/><circle cx="281.6" cy="225.6" r="1.6"/><circle cx="282.3" cy="225.4" r="1.6"/><circle cx="281.9" cy="228.3" r="1.6"/><circle cx="282.3" cy="231.2" r="1.6"/><circle cx="282.4" cy="233.1" r="1.6"/><circle cx="282.2" cy="230.9" r="1.6"/><circle cx="283.5" cy="236.2" r="1.6"/><circle cx="283.4" cy="237.7" r="1.6"/><circle cx="283.6" cy="236.8" r="1.6"/><circle cx="284.0" cy="239.0" r="1.6"/><circle cx="284.2" cy="241.1" r="1.6"/><circle cx="283.2" cy="240.2" r="1.6"/><circle cx="284.7" cy="243.1" r="1.6"/><circle cx="284.2" cy="244.8" r="1.6"/><circle cx="284.4" cy="244.7" r="1.6"/><circle cx="284.8" cy="246.8" r="1.6"/><circle cx="285.6" cy="247.7" r="1.6"/><circle cx="286.0" cy="251.4" r="1.6"/><circle cx="286.1" cy="251.3" r="1.6"/><circle cx="285.7" cy="251.3" r="1.6"/><circle cx="285.7" cy="251.3" r="1.6"/><circle cx="286.0" cy="252.9" r="1.6"/><circle cx="286.9" cy="256.9" r="1.6"/><circle cx="286.2" cy="256.3" r="1.6"/><circle cx="286.6" cy="259.4" r="1.6"/><circle cx="286.4" cy="259.2" r="1.6"/><circle cx="286.1" cy="262.6" r="1.6"/><circle cx="287.2" cy="265.9" r="1.6"/><circle cx="287.4" cy="263.3" r="1.6"/><circle cx="288.2" cy="264.6" r="1.6"/><circle cx="287.9" cy="264.8" r="1.6"/><circle cx="287.8" cy="268.5" r="1.6"/><circle cx="288.6" cy="269.8" r="1.6"/><circle cx="288.3" cy="268.3" r="1.6"/><circle cx="288.2" cy="270.3" r="1.6"/><circle cx="288.2" cy="270.1" r="1.6"/><circle cx="289.4" cy="271.8" r="1.6"/><circle cx="288.8" cy="271.7" r="1.6"/><circle cx="289.1" cy="269.3" r="1.6"/><circle cx="289.1" cy="272.5" r="1.6"/><circle cx="290.5" cy="270.3" r="1.6"/><circle cx="289.7" cy="271.0" r="1.6"/><circle cx="291.2" cy="273.4" r="1.6"/><circle cx="290.2" cy="269.6" r="1.6"/><circle cx="290.3" cy="274.4" r="1.6"/><circle cx="291.5" cy="272.6" r="1.6"/><circle cx="290.7" cy="272.6" r="1.6"/><circle cx="290.4" cy="275.9" r="1.6"/><circle cx="291.0" cy="277.3" r="1.6"/><circle cx="290.9" cy="275.0" r="1.6"/><circle cx="291.9" cy="277.0" r="1.6"/><circle cx="292.3" cy="278.7" r="1.6"/><circle cx="291.7" cy="280.1" r="1.6"/><circle cx="292.7" cy="276.9" r="1.6"/><circle cx="293.3" cy="281.1" r="1.6"/><circle cx="293.1" cy="278.1" r="1.6"/><circle cx="292.7" cy="280.9" r="1.6"/><circle cx="293.6" cy="279.8" r="1.6"/><circle cx="293.0" cy="279.5" r="1.6"/><circle cx="293.5" cy="283.7" r="1.6"/><circle cx="293.1" cy="282.9" r="1.6"/><circle cx="294.2" cy="286.9" r="1.6"/><circle cx="294.5" cy="284.7" r="1.6"/><circle cx="293.9" cy="284.5" r="1.6"/><circle cx="294.3" cy="286.8" r="1.6"/><circle cx="294.8" cy="289.8" r="1.6"/><circle cx="295.1" cy="286.2" r="1.6"/><circle cx="295.8" cy="289.7" r="1.6"/><circle cx="295.4" cy="287.6" r="1.6"/><circle cx="294.9" cy="287.6" r="1.6"/><circle cx="296.2" cy="288.4" r="1.6"/><circle cx="295.5" cy="290.4" r="1.6"/><circle cx="296.3" cy="291.4" r="1.6"/><circle cx="296.7" cy="293.1" r="1.6"/><circle cx="296.3" cy="292.9" r="1.6"/><circle cx="296.4" cy="292.9" r="1.6"/><circle cx="297.1" cy="292.7" r="1.6"/><circle cx="297.6" cy="292.6" r="1.6"/><circle cx="297.8" cy="294.3" r="1.6"/><circle cx="297.7" cy="292.5" r="1.6"/><circle cx="297.5" cy="292.9" r="1.6"/><circle cx="297.9" cy="293.9" r="1.6"/><circle cx="299.4" cy="295.3" r="1.6"/><circle cx="298.7" cy="293.4" r="1.6"/><circle cx="298.3" cy="294.5" r="1.6"/><circle cx="298.9" cy="293.8" r="1.6"/><circle cx="299.6" cy="294.8" r="1.6"/><circle cx="299.6" cy="292.7" r="1.6"/><circle cx="299.4" cy="296.7" r="1.6"/><circle cx="299.7" cy="297.6" r="1.6"/><circle cx="299.9" cy="297.2" r="1.6"/><circle cx="299.2" cy="296.9" r="1.6"/><circle cx="299.3" cy="299.9" r="1.6"/><circle cx="300.5" cy="299.6" r="1.6"/><circle cx="300.3" cy="300.0" r="1.6"/><circle cx="301.5" cy="304.4" r="1.6"/><circle cx="301.0" cy="304.2" r="1.6"/><circle cx="300.6" cy="299.9" r="1.6"/><circle cx="301.2" cy="301.9" r="1.6"/><circle cx="301.4" cy="304.0" r="1.6"/><circle cx="303.0" cy="303.2" r="1.6"/><circle cx="302.0" cy="305.1" r="1.6"/><circle cx="302.2" cy="306.6" r="1.6"/><circle cx="303.1" cy="303.8" r="1.6"/><circle cx="302.7" cy="305.7" r="1.6"/><circle cx="302.9" cy="304.3" r="1.6"/><circle cx="302.3" cy="303.8" r="1.6"/><circle cx="303.4" cy="307.8" r="1.6"/><circle cx="303.4" cy="304.6" r="1.6"/><circle cx="303.5" cy="307.1" r="1.6"/><circle cx="303.2" cy="307.3" r="1.6"/><circle cx="304.3" cy="309.8" r="1.6"/><circle cx="304.2" cy="310.2" r="1.6"/><circle cx="304.2" cy="309.9" r="1.6"/><circle cx="304.6" cy="311.0" r="1.6"/><circle cx="304.8" cy="310.3" r="1.6"/><circle cx="304.9" cy="310.0" r="1.6"/><circle cx="306.1" cy="312.1" r="1.6"/><circle cx="305.6" cy="315.0" r="1.6"/><circle cx="306.2" cy="309.8" r="1.6"/><circle cx="306.1" cy="313.7" r="1.6"/><circle cx="306.8" cy="314.8" r="1.6"/><circle cx="306.5" cy="311.5" r="1.6"/><circle cx="306.1" cy="314.0" r="1.6"/><circle cx="306.8" cy="312.5" r="1.6"/><circle cx="306.6" cy="313.9" r="1.6"/><circle cx="307.0" cy="315.7" r="1.6"/><circle cx="307.1" cy="314.0" r="1.6"/><circle cx="307.9" cy="319.0" r="1.6"/><circle cx="307.6" cy="318.8" r="1.6"/><circle cx="308.0" cy="318.9" r="1.6"/><circle cx="308.2" cy="317.5" r="1.6"/><circle cx="308.4" cy="320.8" r="1.6"/><circle cx="308.0" cy="322.9" r="1.6"/><circle cx="309.4" cy="323.4" r="1.6"/><circle cx="309.6" cy="322.4" r="1.6"/><circle cx="308.9" cy="321.4" r="1.6"/><circle cx="308.9" cy="323.5" r="1.6"/><circle cx="309.4" cy="325.3" r="1.6"/><circle cx="308.8" cy="328.7" r="1.6"/><circle cx="310.7" cy="326.3" r="1.6"/><circle cx="310.3" cy="328.1" r="1.6"/><circle cx="310.3" cy="328.1" r="1.6"/><circle cx="310.4" cy="328.1" r="1.6"/><circle cx="310.7" cy="330.3" r="1.6"/><circle cx="310.9" cy="330.0" r="1.6"/><circle cx="311.0" cy="332.3" r="1.6"/><circle cx="311.4" cy="331.5" r="1.6"/><circle cx="311.6" cy="335.6" r="1.6"/><circle cx="311.8" cy="334.5" r="1.6"/><circle cx="311.6" cy="335.6" r="1.6"/><circle cx="312.3" cy="339.1" r="1.6"/><circle cx="312.1" cy="336.6" r="1.6"/><circle cx="312.6" cy="338.7" r="1.6"/><circle cx="312.2" cy="338.2" r="1.6"/><circle cx="312.8" cy="341.1" r="1.6"/><circle cx="312.5" cy="339.4" r="1.6"/><circle cx="313.4" cy="339.9" r="1.6"/><circle cx="313.4" cy="343.1" r="1.6"/><circle cx="313.6" cy="341.7" r="1.6"/><circle cx="313.8" cy="343.4" r="1.6"/><circle cx="314.1" cy="343.3" r="1.6"/><circle cx="314.6" cy="342.8" r="1.6"/><circle cx="314.3" cy="345.9" r="1.6"/><circle cx="315.0" cy="345.7" r="1.6"/><circle cx="315.0" cy="346.4" r="1.6"/><circle cx="315.3" cy="350.5" r="1.6"/><circle cx="315.0" cy="349.3" r="1.6"/><circle cx="315.0" cy="350.7" r="1.6"/><circle cx="316.1" cy="349.9" r="1.6"/><circle cx="315.3" cy="351.1" r="1.6"/><circle cx="316.5" cy="352.7" r="1.6"/><circle cx="316.5" cy="348.8" r="1.6"/><circle cx="316.1" cy="354.3" r="1.6"/><circle cx="316.1" cy="354.4" r="1.6"/><circle cx="317.6" cy="354.4" r="1.6"/><circle cx="317.4" cy="353.4" r="1.6"/><circle cx="316.7" cy="354.3" r="1.6"/><circle cx="317.3" cy="354.9" r="1.6"/><circle cx="317.9" cy="355.3" r="1.6"/><circle cx="317.9" cy="356.8" r="1.6"/><circle cx="318.0" cy="359.5" r="1.6"/><circle cx="318.4" cy="357.4" r="1.6"/><circle cx="318.3" cy="356.9" r="1.6"/><circle cx="319.1" cy="358.6" r="1.6"/><circle cx="318.4" cy="358.1" r="1.6"/><circle cx="318.9" cy="358.9" r="1.6"/><circle cx="319.6" cy="358.4" r="1.6"/><circle cx="319.6" cy="360.9" r="1.6"/><circle cx="319.1" cy="361.3" r="1.6"/><circle cx="319.8" cy="362.6" r="1.6"/><circle cx="319.8" cy="362.8" r="1.6"/><circle cx="319.5" cy="361.3" r="1.6"/><circle cx="320.7" cy="365.1" r="1.6"/><circle cx="320.6" cy="363.1" r="1.6"/><circle cx="321.2" cy="361.2" r="1.6"/><circle cx="320.7" cy="365.7" r="1.6"/><circle cx="321.5" cy="363.5" r="1.6"/><circle cx="320.6" cy="367.6" r="1.6"/><circle cx="321.7" cy="364.5" r="1.6"/><circle cx="321.8" cy="367.5" r="1.6"/><circle cx="321.0" cy="368.2" r="1.6"/><circle cx="322.5" cy="363.8" r="1.6"/><circle cx="322.7" cy="364.6" r="1.6"/><circle cx="323.1" cy="368.2" r="1.6"/><circle cx="323.7" cy="367.1" r="1.6"/><circle cx="323.0" cy="369.9" r="1.6"/><circle cx="322.9" cy="367.7" r="1.6"/><circle cx="323.3" cy="369.0" r="1.6"/><circle cx="323.2" cy="370.2" r="1.6"/><circle cx="324.0" cy="369.9" r="1.6"/><circle cx="324.7" cy="369.7" r="1.6"/><circle cx="324.7" cy="369.7" r="1.6"/><circle cx="324.7" cy="368.0" r="1.6"/><circle cx="324.7" cy="371.1" r="1.6"/><circle cx="324.6" cy="370.9" r="1.6"/><circle cx="324.9" cy="371.1" r="1.6"/><circle cx="324.3" cy="371.8" r="1.6"/><circle cx="325.2" cy="372.3" r="1.6"/><circle cx="325.2" cy="373.3" r="1.6"/><circle cx="326.1" cy="373.6" r="1.6"/><circle cx="325.8" cy="376.4" r="1.6"/><circle cx="326.6" cy="376.2" r="1.6"/><circle cx="326.9" cy="374.8" r="1.6"/><circle cx="326.5" cy="377.3" r="1.6"/><circle cx="326.6" cy="375.7" r="1.6"/><circle cx="327.2" cy="376.7" r="1.6"/><circle cx="327.1" cy="377.9" r="1.6"/><circle cx="327.3" cy="377.7" r="1.6"/><circle cx="328.0" cy="377.9" r="1.6"/><circle cx="328.1" cy="375.4" r="1.6"/><circle cx="327.5" cy="376.5" r="1.6"/><circle cx="328.4" cy="380.0" r="1.6"/><circle cx="327.9" cy="378.5" r="1.6"/><circle cx="328.3" cy="377.2" r="1.6"/><circle cx="328.7" cy="379.7" r="1.6"/><circle cx="329.1" cy="380.7" r="1.6"/><circle cx="328.8" cy="380.6" r="1.6"/><circle cx="329.8" cy="379.7" r="1.6"/><circle cx="329.8" cy="379.1" r="1.6"/><circle cx="329.4" cy="379.6" r="1.6"/><circle cx="329.7" cy="383.8" r="1.6"/><circle cx="330.0" cy="383.3" r="1.6"/><circle cx="330.5" cy="381.6" r="1.6"/><circle cx="330.9" cy="380.3" r="1.6"/><circle cx="331.2" cy="382.4" r="1.6"/><circle cx="330.4" cy="383.0" r="1.6"/><circle cx="331.4" cy="383.1" r="1.6"/><circle cx="332.0" cy="382.1" r="1.6"/><circle cx="331.8" cy="384.2" r="1.6"/><circle cx="331.4" cy="385.2" r="1.6"/><circle cx="331.4" cy="381.7" r="1.6"/><circle cx="332.4" cy="382.4" r="1.6"/><circle cx="332.4" cy="381.9" r="1.6"/><circle cx="332.6" cy="382.9" r="1.6"/><circle cx="332.9" cy="381.4" r="1.6"/><circle cx="333.2" cy="384.7" r="1.6"/><circle cx="333.2" cy="385.6" r="1.6"/><circle cx="333.5" cy="383.0" r="1.6"/><circle cx="332.6" cy="386.6" r="1.6"/><circle cx="333.4" cy="385.8" r="1.6"/><circle cx="334.2" cy="382.6" r="1.6"/><circle cx="333.9" cy="386.2" r="1.6"/><circle cx="334.0" cy="388.9" r="1.6"/><circle cx="334.5" cy="386.5" r="1.6"/><circle cx="334.4" cy="390.8" r="1.6"/><circle cx="334.7" cy="390.6" r="1.6"/><circle cx="335.4" cy="385.0" r="1.6"/><circle cx="335.0" cy="390.0" r="1.6"/><circle cx="335.7" cy="392.3" r="1.6"/><circle cx="336.1" cy="393.3" r="1.6"/><circle cx="335.9" cy="390.6" r="1.6"/><circle cx="336.5" cy="390.5" r="1.6"/><circle cx="336.8" cy="388.0" r="1.6"/><circle cx="336.9" cy="391.9" r="1.6"/><circle cx="336.0" cy="395.1" r="1.6"/><circle cx="337.1" cy="393.1" r="1.6"/><circle cx="336.8" cy="392.3" r="1.6"/><circle cx="338.0" cy="391.8" r="1.6"/><circle cx="336.2" cy="392.1" r="1.6"/><circle cx="337.3" cy="394.3" r="1.6"/><circle cx="337.8" cy="392.7" r="1.6"/><circle cx="337.9" cy="398.0" r="1.6"/><circle cx="337.8" cy="400.7" r="1.6"/><circle cx="338.4" cy="393.3" r="1.6"/><circle cx="339.1" cy="397.9" r="1.6"/><circle cx="338.6" cy="398.8" r="1.6"/><circle cx="338.5" cy="394.8" r="1.6"/><circle cx="339.9" cy="396.9" r="1.6"/><circle cx="339.1" cy="399.3" r="1.6"/><circle cx="340.2" cy="398.2" r="1.6"/><circle cx="339.3" cy="397.8" r="1.6"/><circle cx="340.4" cy="401.1" r="1.6"/><circle cx="341.1" cy="398.7" r="1.6"/><circle cx="340.4" cy="399.7" r="1.6"/><circle cx="341.3" cy="397.6" r="1.6"/><circle cx="341.5" cy="394.5" r="1.6"/><circle cx="341.5" cy="399.0" r="1.6"/><circle cx="341.6" cy="403.2" r="1.6"/><circle cx="341.1" cy="401.4" r="1.6"/><circle cx="341.9" cy="403.7" r="1.6"/><circle cx="341.6" cy="399.6" r="1.6"/><circle cx="341.4" cy="409.0" r="1.6"/><circle cx="342.3" cy="402.4" r="1.6"/><circle cx="342.0" cy="406.0" r="1.6"/><circle cx="342.6" cy="407.7" r="1.6"/><circle cx="343.3" cy="404.0" r="1.6"/><circle cx="343.5" cy="401.2" r="1.6"/><circle cx="343.3" cy="403.0" r="1.6"/><circle cx="343.1" cy="404.9" r="1.6"/><circle cx="343.7" cy="409.1" r="1.6"/><circle cx="342.7" cy="403.6" r="1.6"/><circle cx="343.8" cy="404.5" r="1.6"/><circle cx="344.6" cy="407.2" r="1.6"/><circle cx="344.6" cy="405.1" r="1.6"/><circle cx="345.0" cy="407.6" r="1.6"/><circle cx="344.3" cy="406.3" r="1.6"/><circle cx="344.7" cy="404.1" r="1.6"/><circle cx="345.5" cy="407.7" r="1.6"/><circle cx="345.6" cy="405.6" r="1.6"/><circle cx="345.7" cy="405.8" r="1.6"/><circle cx="346.2" cy="410.3" r="1.6"/><circle cx="346.9" cy="412.1" r="1.6"/><circle cx="346.1" cy="407.9" r="1.6"/><circle cx="346.2" cy="410.2" r="1.6"/><circle cx="347.6" cy="411.5" r="1.6"/><circle cx="346.1" cy="406.7" r="1.6"/><circle cx="346.7" cy="411.5" r="1.6"/><circle cx="347.4" cy="411.2" r="1.6"/><circle cx="348.3" cy="408.6" r="1.6"/><circle cx="347.5" cy="416.0" r="1.6"/><circle cx="348.1" cy="409.2" r="1.6"/><circle cx="347.4" cy="407.5" r="1.6"/><circle cx="347.4" cy="411.8" r="1.6"/><circle cx="348.6" cy="414.4" r="1.6"/><circle cx="348.7" cy="410.3" r="1.6"/><circle cx="348.7" cy="417.2" r="1.6"/><circle cx="348.5" cy="413.0" r="1.6"/><circle cx="349.4" cy="414.4" r="1.6"/><circle cx="349.4" cy="414.3" r="1.6"/><circle cx="350.1" cy="412.9" r="1.6"/><circle cx="349.8" cy="413.1" r="1.6"/><circle cx="349.8" cy="413.2" r="1.6"/><circle cx="350.3" cy="414.5" r="1.6"/><circle cx="351.1" cy="417.6" r="1.6"/><circle cx="350.6" cy="416.0" r="1.6"/><circle cx="351.1" cy="416.7" r="1.6"/><circle cx="351.2" cy="415.6" r="1.6"/><circle cx="351.2" cy="413.2" r="1.6"/><circle cx="351.9" cy="418.8" r="1.6"/><circle cx="352.1" cy="416.7" r="1.6"/><circle cx="352.1" cy="414.5" r="1.6"/><circle cx="351.5" cy="417.5" r="1.6"/><circle cx="352.5" cy="414.5" r="1.6"/><circle cx="352.2" cy="419.2" r="1.6"/><circle cx="352.1" cy="420.5" r="1.6"/><circle cx="353.3" cy="421.7" r="1.6"/><circle cx="352.9" cy="416.2" r="1.6"/><circle cx="353.2" cy="416.8" r="1.6"/><circle cx="353.5" cy="414.6" r="1.6"/><circle cx="354.2" cy="414.7" r="1.6"/><circle cx="353.8" cy="418.1" r="1.6"/><circle cx="354.0" cy="415.7" r="1.6"/><circle cx="354.5" cy="416.0" r="1.6"/><circle cx="354.1" cy="416.8" r="1.6"/><circle cx="354.7" cy="421.2" r="1.6"/><circle cx="354.6" cy="419.5" r="1.6"/><circle cx="354.9" cy="416.4" r="1.6"/><circle cx="355.3" cy="418.0" r="1.6"/><circle cx="355.9" cy="421.7" r="1.6"/><circle cx="355.5" cy="420.8" r="1.6"/><circle cx="356.4" cy="419.6" r="1.6"/><circle cx="355.9" cy="419.9" r="1.6"/><circle cx="356.4" cy="418.7" r="1.6"/><circle cx="356.5" cy="419.5" r="1.6"/><circle cx="357.2" cy="420.7" r="1.6"/><circle cx="356.9" cy="420.4" r="1.6"/><circle cx="357.8" cy="415.9" r="1.6"/><circle cx="358.0" cy="415.0" r="1.6"/><circle cx="357.8" cy="419.6" r="1.6"/><circle cx="358.4" cy="418.9" r="1.6"/><circle cx="357.8" cy="416.5" r="1.6"/><circle cx="357.7" cy="420.1" r="1.6"/><circle cx="358.3" cy="416.8" r="1.6"/><circle cx="358.8" cy="416.7" r="1.6"/><circle cx="358.6" cy="417.5" r="1.6"/><circle cx="359.7" cy="421.9" r="1.6"/><circle cx="359.1" cy="415.0" r="1.6"/><circle cx="359.5" cy="418.8" r="1.6"/><circle cx="359.7" cy="420.0" r="1.6"/><circle cx="359.7" cy="420.9" r="1.6"/><circle cx="360.3" cy="419.3" r="1.6"/><circle cx="360.0" cy="417.8" r="1.6"/><circle cx="360.7" cy="416.4" r="1.6"/><circle cx="360.5" cy="417.3" r="1.6"/><circle cx="360.2" cy="420.4" r="1.6"/><circle cx="361.0" cy="419.2" r="1.6"/><circle cx="361.5" cy="415.8" r="1.6"/><circle cx="361.4" cy="420.0" r="1.6"/><circle cx="361.9" cy="417.1" r="1.6"/><circle cx="362.1" cy="420.2" r="1.6"/><circle cx="362.5" cy="422.4" r="1.6"/><circle cx="362.4" cy="424.8" r="1.6"/><circle cx="362.4" cy="419.3" r="1.6"/><circle cx="362.5" cy="418.3" r="1.6"/><circle cx="362.8" cy="416.4" r="1.6"/><circle cx="363.0" cy="421.6" r="1.6"/><circle cx="363.6" cy="420.1" r="1.6"/><circle cx="364.0" cy="419.6" r="1.6"/><circle cx="363.5" cy="417.1" r="1.6"/><circle cx="363.5" cy="419.7" r="1.6"/><circle cx="364.6" cy="422.7" r="1.6"/><circle cx="363.8" cy="422.8" r="1.6"/><circle cx="364.6" cy="421.4" r="1.6"/><circle cx="364.6" cy="421.4" r="1.6"/><circle cx="364.6" cy="418.5" r="1.6"/><circle cx="365.0" cy="425.1" r="1.6"/><circle cx="365.8" cy="422.0" r="1.6"/><circle cx="365.1" cy="422.3" r="1.6"/><circle cx="366.0" cy="423.6" r="1.6"/><circle cx="365.6" cy="423.8" r="1.6"/><circle cx="365.9" cy="424.2" r="1.6"/><circle cx="366.0" cy="420.2" r="1.6"/><circle cx="366.4" cy="424.8" r="1.6"/><circle cx="366.2" cy="423.1" r="1.6"/><circle cx="367.1" cy="422.6" r="1.6"/><circle cx="366.7" cy="427.6" r="1.6"/><circle cx="367.5" cy="425.6" r="1.6"/><circle cx="367.0" cy="426.8" r="1.6"/><circle cx="367.0" cy="422.5" r="1.6"/><circle cx="368.1" cy="426.3" r="1.6"/><circle cx="367.6" cy="422.3" r="1.6"/><circle cx="368.3" cy="419.8" r="1.6"/><circle cx="368.6" cy="424.9" r="1.6"/><circle cx="368.4" cy="424.9" r="1.6"/><circle cx="369.1" cy="424.5" r="1.6"/><circle cx="369.2" cy="426.9" r="1.6"/><circle cx="369.0" cy="424.3" r="1.6"/><circle cx="369.2" cy="426.0" r="1.6"/><circle cx="369.4" cy="425.0" r="1.6"/><circle cx="369.9" cy="424.2" r="1.6"/><circle cx="370.7" cy="424.0" r="1.6"/><circle cx="370.7" cy="425.8" r="1.6"/><circle cx="370.9" cy="423.9" r="1.6"/><circle cx="371.0" cy="425.8" r="1.6"/><circle cx="370.6" cy="424.9" r="1.6"/><circle cx="371.0" cy="424.3" r="1.6"/><circle cx="371.7" cy="423.0" r="1.6"/><circle cx="370.7" cy="421.0" r="1.6"/><circle cx="371.4" cy="423.2" r="1.6"/><circle cx="371.8" cy="425.6" r="1.6"/><circle cx="372.7" cy="425.1" r="1.6"/><circle cx="372.4" cy="423.1" r="1.6"/><circle cx="372.6" cy="427.3" r="1.6"/><circle cx="373.1" cy="420.7" r="1.6"/><circle cx="373.1" cy="427.8" r="1.6"/><circle cx="373.3" cy="421.7" r="1.6"/><circle cx="373.1" cy="425.9" r="1.6"/><circle cx="373.6" cy="423.1" r="1.6"/><circle cx="373.3" cy="426.7" r="1.6"/><circle cx="373.3" cy="427.7" r="1.6"/><circle cx="374.0" cy="425.4" r="1.6"/><circle cx="373.7" cy="423.7" r="1.6"/><circle cx="374.7" cy="421.9" r="1.6"/><circle cx="375.4" cy="422.1" r="1.6"/><circle cx="374.3" cy="425.1" r="1.6"/><circle cx="375.2" cy="426.5" r="1.6"/><circle cx="375.1" cy="424.6" r="1.6"/><circle cx="375.3" cy="423.9" r="1.6"/><circle cx="374.6" cy="427.1" r="1.6"/><circle cx="375.9" cy="425.5" r="1.6"/><circle cx="375.8" cy="425.7" r="1.6"/><circle cx="376.2" cy="425.2" r="1.6"/><circle cx="376.8" cy="422.2" r="1.6"/><circle cx="376.7" cy="423.5" r="1.6"/><circle cx="376.7" cy="428.2" r="1.6"/><circle cx="376.6" cy="425.4" r="1.6"/><circle cx="377.0" cy="427.2" r="1.6"/><circle cx="377.0" cy="422.8" r="1.6"/><circle cx="377.8" cy="425.2" r="1.6"/><circle cx="377.7" cy="427.5" r="1.6"/><circle cx="377.7" cy="425.3" r="1.6"/><circle cx="378.3" cy="426.5" r="1.6"/><circle cx="378.2" cy="427.5" r="1.6"/><circle cx="379.5" cy="425.4" r="1.6"/><circle cx="379.5" cy="422.8" r="1.6"/><circle cx="379.5" cy="425.5" r="1.6"/><circle cx="379.3" cy="425.5" r="1.6"/><circle cx="379.2" cy="423.9" r="1.6"/><circle cx="379.4" cy="428.2" r="1.6"/><circle cx="380.2" cy="425.5" r="1.6"/><circle cx="379.8" cy="424.8" r="1.6"/><circle cx="379.7" cy="429.3" r="1.6"/><circle cx="380.7" cy="426.3" r="1.6"/><circle cx="380.4" cy="424.2" r="1.6"/><circle cx="381.3" cy="427.6" r="1.6"/><circle cx="380.6" cy="428.0" r="1.6"/><circle cx="380.8" cy="427.4" r="1.6"/><circle cx="381.0" cy="425.3" r="1.6"/><circle cx="381.8" cy="427.0" r="1.6"/><circle cx="382.2" cy="424.4" r="1.6"/><circle cx="382.6" cy="429.0" r="1.6"/><circle cx="382.2" cy="427.2" r="1.6"/><circle cx="382.1" cy="426.0" r="1.6"/><circle cx="382.1" cy="426.6" r="1.6"/><circle cx="382.9" cy="429.3" r="1.6"/><circle cx="383.4" cy="428.2" r="1.6"/><circle cx="383.1" cy="426.1" r="1.6"/><circle cx="383.3" cy="427.1" r="1.6"/><circle cx="382.9" cy="428.3" r="1.6"/><circle cx="383.2" cy="425.7" r="1.6"/><circle cx="384.0" cy="425.7" r="1.6"/><circle cx="384.8" cy="426.7" r="1.6"/><circle cx="385.0" cy="429.5" r="1.6"/><circle cx="384.4" cy="427.9" r="1.6"/><circle cx="385.3" cy="426.3" r="1.6"/><circle cx="385.0" cy="425.9" r="1.6"/><circle cx="385.2" cy="426.4" r="1.6"/><circle cx="385.4" cy="429.5" r="1.6"/><circle cx="386.1" cy="427.7" r="1.6"/><circle cx="385.9" cy="429.4" r="1.6"/><circle cx="385.9" cy="425.1" r="1.6"/><circle cx="386.6" cy="425.5" r="1.6"/><circle cx="386.8" cy="425.5" r="1.6"/><circle cx="387.3" cy="425.3" r="1.6"/><circle cx="387.1" cy="431.5" r="1.6"/><circle cx="386.6" cy="431.6" r="1.6"/><circle cx="386.9" cy="423.8" r="1.6"/><circle cx="387.7" cy="429.9" r="1.6"/><circle cx="387.5" cy="422.5" r="1.6"/><circle cx="387.8" cy="427.6" r="1.6"/><circle cx="387.9" cy="427.7" r="1.6"/><circle cx="387.5" cy="427.1" r="1.6"/><circle cx="389.1" cy="432.6" r="1.6"/><circle cx="388.5" cy="426.7" r="1.6"/><circle cx="389.0" cy="431.3" r="1.6"/><circle cx="389.3" cy="425.5" r="1.6"/><circle cx="389.3" cy="428.9" r="1.6"/><circle cx="390.0" cy="431.6" r="1.6"/><circle cx="389.8" cy="431.6" r="1.6"/><circle cx="389.6" cy="432.5" r="1.6"/><circle cx="389.8" cy="429.5" r="1.6"/><circle cx="390.6" cy="426.1" r="1.6"/><circle cx="390.1" cy="423.9" r="1.6"/><circle cx="390.7" cy="428.2" r="1.6"/><circle cx="390.7" cy="429.7" r="1.6"/><circle cx="390.2" cy="428.3" r="1.6"/><circle cx="391.2" cy="427.6" r="1.6"/><circle cx="391.7" cy="432.9" r="1.6"/><circle cx="391.4" cy="425.9" r="1.6"/><circle cx="391.6" cy="428.6" r="1.6"/><circle cx="392.2" cy="426.2" r="1.6"/><circle cx="392.6" cy="425.9" r="1.6"/><circle cx="392.7" cy="429.7" r="1.6"/><circle cx="392.8" cy="434.1" r="1.6"/><circle cx="392.7" cy="428.3" r="1.6"/><circle cx="393.2" cy="430.9" r="1.6"/><circle cx="392.7" cy="429.5" r="1.6"/><circle cx="393.1" cy="430.5" r="1.6"/><circle cx="394.1" cy="429.1" r="1.6"/><circle cx="393.8" cy="429.5" r="1.6"/><circle cx="392.9" cy="431.0" r="1.6"/><circle cx="394.4" cy="429.6" r="1.6"/><circle cx="394.2" cy="427.5" r="1.6"/><circle cx="394.5" cy="432.2" r="1.6"/><circle cx="394.8" cy="432.6" r="1.6"/><circle cx="394.0" cy="428.5" r="1.6"/><circle cx="395.3" cy="429.7" r="1.6"/><circle cx="394.8" cy="428.3" r="1.6"/><circle cx="396.1" cy="427.0" r="1.6"/><circle cx="395.4" cy="427.7" r="1.6"/><circle cx="395.8" cy="431.8" r="1.6"/><circle cx="396.4" cy="425.9" r="1.6"/><circle cx="397.0" cy="429.3" r="1.6"/><circle cx="396.4" cy="434.5" r="1.6"/><circle cx="396.8" cy="428.2" r="1.6"/><circle cx="396.8" cy="429.5" r="1.6"/><circle cx="396.8" cy="430.5" r="1.6"/><circle cx="397.7" cy="432.2" r="1.6"/><circle cx="397.1" cy="436.6" r="1.6"/><circle cx="397.4" cy="432.0" r="1.6"/><circle cx="398.0" cy="433.6" r="1.6"/><circle cx="398.1" cy="433.0" r="1.6"/><circle cx="399.2" cy="432.2" r="1.6"/><circle cx="398.2" cy="432.6" r="1.6"/><circle cx="398.5" cy="431.1" r="1.6"/><circle cx="399.1" cy="432.6" r="1.6"/><circle cx="399.1" cy="433.6" r="1.6"/><circle cx="399.3" cy="429.1" r="1.6"/><circle cx="399.9" cy="431.0" r="1.6"/><circle cx="400.3" cy="430.4" r="1.6"/><circle cx="400.2" cy="432.4" r="1.6"/><circle cx="399.2" cy="428.7" r="1.6"/><circle cx="400.0" cy="434.5" r="1.6"/><circle cx="399.9" cy="433.5" r="1.6"/><circle cx="401.2" cy="432.6" r="1.6"/><circle cx="401.3" cy="430.6" r="1.6"/><circle cx="401.2" cy="432.0" r="1.6"/><circle cx="401.6" cy="432.9" r="1.6"/><circle cx="401.5" cy="430.1" r="1.6"/><circle cx="401.6" cy="432.3" r="1.6"/><circle cx="401.4" cy="428.9" r="1.6"/><circle cx="402.0" cy="430.3" r="1.6"/><circle cx="402.3" cy="426.7" r="1.6"/><circle cx="402.5" cy="430.9" r="1.6"/><circle cx="403.1" cy="427.2" r="1.6"/><circle cx="402.9" cy="432.4" r="1.6"/><circle cx="403.4" cy="434.0" r="1.6"/><circle cx="403.8" cy="429.0" r="1.6"/><circle cx="403.8" cy="430.6" r="1.6"/><circle cx="403.5" cy="434.9" r="1.6"/><circle cx="403.8" cy="429.3" r="1.6"/><circle cx="404.0" cy="429.3" r="1.6"/><circle cx="404.8" cy="432.2" r="1.6"/><circle cx="405.1" cy="432.3" r="1.6"/><circle cx="404.6" cy="433.9" r="1.6"/><circle cx="404.7" cy="430.4" r="1.6"/><circle cx="405.1" cy="431.8" r="1.6"/><circle cx="405.9" cy="430.4" r="1.6"/><circle cx="405.7" cy="432.0" r="1.6"/><circle cx="405.3" cy="429.6" r="1.6"/><circle cx="405.9" cy="433.3" r="1.6"/><circle cx="406.3" cy="433.7" r="1.6"/><circle cx="406.4" cy="431.6" r="1.6"/><circle cx="406.8" cy="430.5" r="1.6"/><circle cx="406.3" cy="432.3" r="1.6"/><circle cx="406.4" cy="432.0" r="1.6"/><circle cx="406.9" cy="432.1" r="1.6"/><circle cx="407.4" cy="431.7" r="1.6"/><circle cx="407.4" cy="429.7" r="1.6"/><circle cx="407.9" cy="431.8" r="1.6"/><circle cx="408.2" cy="428.7" r="1.6"/><circle cx="407.9" cy="434.6" r="1.6"/><circle cx="407.5" cy="433.3" r="1.6"/><circle cx="408.6" cy="434.4" r="1.6"/><circle cx="408.2" cy="434.7" r="1.6"/><circle cx="409.1" cy="432.1" r="1.6"/><circle cx="409.5" cy="434.2" r="1.6"/><circle cx="409.4" cy="433.4" r="1.6"/><circle cx="409.8" cy="434.6" r="1.6"/><circle cx="410.2" cy="435.5" r="1.6"/><circle cx="409.8" cy="434.1" r="1.6"/><circle cx="410.6" cy="433.8" r="1.6"/><circle cx="410.5" cy="435.7" r="1.6"/><circle cx="410.5" cy="430.1" r="1.6"/><circle cx="410.9" cy="435.2" r="1.6"/><circle cx="411.1" cy="433.3" r="1.6"/><circle cx="411.7" cy="434.6" r="1.6"/><circle cx="411.2" cy="433.5" r="1.6"/><circle cx="411.7" cy="432.8" r="1.6"/><circle cx="411.4" cy="438.7" r="1.6"/><circle cx="412.5" cy="436.8" r="1.6"/><circle cx="412.7" cy="436.0" r="1.6"/><circle cx="411.7" cy="437.1" r="1.6"/><circle cx="413.1" cy="435.8" r="1.6"/><circle cx="412.0" cy="437.1" r="1.6"/><circle cx="413.5" cy="434.0" r="1.6"/><circle cx="413.2" cy="436.2" r="1.6"/><circle cx="413.4" cy="436.8" r="1.6"/><circle cx="413.6" cy="436.1" r="1.6"/><circle cx="413.8" cy="432.3" r="1.6"/><circle cx="413.6" cy="438.7" r="1.6"/><circle cx="414.3" cy="437.1" r="1.6"/><circle cx="414.8" cy="437.7" r="1.6"/><circle cx="414.8" cy="433.8" r="1.6"/><circle cx="414.8" cy="431.6" r="1.6"/><circle cx="414.9" cy="436.4" r="1.6"/><circle cx="414.4" cy="435.2" r="1.6"/><circle cx="415.7" cy="437.2" r="1.6"/><circle cx="415.2" cy="433.7" r="1.6"/><circle cx="415.1" cy="433.0" r="1.6"/><circle cx="416.2" cy="438.6" r="1.6"/><circle cx="415.8" cy="437.4" r="1.6"/><circle cx="416.6" cy="433.9" r="1.6"/><circle cx="417.5" cy="430.6" r="1.6"/><circle cx="416.8" cy="435.3" r="1.6"/><circle cx="417.8" cy="438.3" r="1.6"/><circle cx="418.1" cy="435.1" r="1.6"/><circle cx="417.8" cy="437.5" r="1.6"/><circle cx="417.8" cy="435.6" r="1.6"/><circle cx="417.7" cy="434.0" r="1.6"/><circle cx="417.5" cy="438.7" r="1.6"/><circle cx="418.0" cy="430.9" r="1.6"/><circle cx="418.5" cy="435.0" r="1.6"/><circle cx="418.7" cy="438.6" r="1.6"/><circle cx="418.8" cy="434.7" r="1.6"/><circle cx="418.7" cy="435.2" r="1.6"/><circle cx="419.0" cy="435.7" r="1.6"/><circle cx="420.6" cy="436.1" r="1.6"/><circle cx="419.3" cy="439.1" r="1.6"/><circle cx="420.1" cy="437.1" r="1.6"/><circle cx="420.3" cy="437.1" r="1.6"/><circle cx="420.5" cy="438.3" r="1.6"/><circle cx="420.8" cy="438.3" r="1.6"/><circle cx="420.4" cy="435.8" r="1.6"/><circle cx="420.5" cy="437.6" r="1.6"/><circle cx="421.3" cy="435.1" r="1.6"/><circle cx="421.4" cy="440.2" r="1.6"/><circle cx="421.9" cy="434.1" r="1.6"/><circle cx="421.6" cy="437.4" r="1.6"/><circle cx="421.8" cy="437.1" r="1.6"/><circle cx="422.5" cy="437.1" r="1.6"/><circle cx="421.8" cy="437.9" r="1.6"/><circle cx="422.4" cy="436.9" r="1.6"/><circle cx="422.4" cy="434.0" r="1.6"/><circle cx="422.3" cy="436.2" r="1.6"/><circle cx="422.6" cy="432.4" r="1.6"/><circle cx="423.6" cy="434.7" r="1.6"/><circle cx="423.1" cy="438.4" r="1.6"/><circle cx="422.7" cy="440.2" r="1.6"/><circle cx="423.5" cy="438.9" r="1.6"/><circle cx="423.8" cy="438.2" r="1.6"/><circle cx="424.2" cy="437.7" r="1.6"/><circle cx="423.7" cy="434.5" r="1.6"/><circle cx="424.6" cy="441.0" r="1.6"/><circle cx="424.6" cy="438.9" r="1.6"/><circle cx="425.1" cy="438.6" r="1.6"/><circle cx="425.6" cy="434.0" r="1.6"/><circle cx="425.5" cy="436.9" r="1.6"/><circle cx="425.5" cy="435.2" r="1.6"/><circle cx="425.5" cy="434.7" r="1.6"/><circle cx="425.6" cy="442.0" r="1.6"/><circle cx="426.9" cy="436.8" r="1.6"/><circle cx="426.7" cy="434.4" r="1.6"/><circle cx="425.5" cy="432.3" r="1.6"/><circle cx="426.9" cy="439.6" r="1.6"/><circle cx="427.0" cy="433.9" r="1.6"/><circle cx="427.1" cy="433.8" r="1.6"/><circle cx="426.9" cy="435.4" r="1.6"/><circle cx="427.4" cy="434.0" r="1.6"/><circle cx="427.5" cy="433.6" r="1.6"/><circle cx="428.1" cy="438.9" r="1.6"/><circle cx="428.1" cy="440.9" r="1.6"/><circle cx="427.8" cy="436.5" r="1.6"/><circle cx="428.1" cy="435.7" r="1.6"/><circle cx="428.8" cy="437.3" r="1.6"/><circle cx="429.4" cy="435.0" r="1.6"/><circle cx="428.7" cy="435.8" r="1.6"/><circle cx="429.5" cy="434.8" r="1.6"/><circle cx="429.9" cy="440.0" r="1.6"/><circle cx="429.2" cy="437.3" r="1.6"/><circle cx="430.4" cy="432.5" r="1.6"/><circle cx="430.3" cy="436.2" r="1.6"/><circle cx="429.8" cy="439.4" r="1.6"/><circle cx="430.7" cy="435.8" r="1.6"/><circle cx="431.0" cy="438.2" r="1.6"/><circle cx="431.3" cy="438.1" r="1.6"/><circle cx="431.4" cy="434.7" r="1.6"/><circle cx="431.2" cy="437.3" r="1.6"/><circle cx="430.5" cy="441.5" r="1.6"/><circle cx="431.7" cy="435.0" r="1.6"/><circle cx="431.3" cy="437.7" r="1.6"/><circle cx="432.2" cy="436.0" r="1.6"/><circle cx="432.2" cy="435.4" r="1.6"/><circle cx="432.3" cy="437.1" r="1.6"/><circle cx="432.5" cy="438.8" r="1.6"/><circle cx="432.9" cy="437.7" r="1.6"/><circle cx="433.4" cy="440.2" r="1.6"/><circle cx="433.6" cy="438.0" r="1.6"/><circle cx="433.5" cy="435.7" r="1.6"/><circle cx="433.7" cy="439.1" r="1.6"/><circle cx="434.1" cy="436.7" r="1.6"/><circle cx="433.7" cy="434.1" r="1.6"/><circle cx="434.5" cy="440.0" r="1.6"/><circle cx="434.7" cy="434.5" r="1.6"/><circle cx="434.7" cy="438.1" r="1.6"/><circle cx="434.6" cy="438.4" r="1.6"/><circle cx="435.1" cy="435.7" r="1.6"/><circle cx="434.9" cy="439.3" r="1.6"/><circle cx="435.7" cy="435.6" r="1.6"/><circle cx="435.4" cy="439.4" r="1.6"/><circle cx="436.2" cy="436.9" r="1.6"/><circle cx="436.8" cy="436.9" r="1.6"/><circle cx="436.0" cy="439.6" r="1.6"/><circle cx="436.5" cy="438.1" r="1.6"/><circle cx="436.8" cy="435.5" r="1.6"/><circle cx="436.5" cy="437.0" r="1.6"/><circle cx="437.7" cy="435.5" r="1.6"/><circle cx="437.9" cy="437.8" r="1.6"/><circle cx="437.2" cy="437.8" r="1.6"/><circle cx="438.0" cy="435.7" r="1.6"/><circle cx="437.2" cy="438.0" r="1.6"/><circle cx="437.8" cy="438.2" r="1.6"/><circle cx="437.7" cy="437.1" r="1.6"/><circle cx="438.3" cy="434.6" r="1.6"/><circle cx="438.7" cy="437.7" r="1.6"/><circle cx="438.8" cy="435.2" r="1.6"/><circle cx="439.3" cy="434.2" r="1.6"/><circle cx="439.6" cy="438.2" r="1.6"/><circle cx="440.3" cy="439.0" r="1.6"/><circle cx="439.9" cy="437.8" r="1.6"/><circle cx="440.0" cy="434.9" r="1.6"/><circle cx="440.8" cy="438.3" r="1.6"/><circle cx="440.3" cy="435.3" r="1.6"/><circle cx="441.2" cy="438.3" r="1.6"/><circle cx="440.3" cy="438.6" r="1.6"/><circle cx="441.7" cy="437.3" r="1.6"/><circle cx="441.4" cy="436.5" r="1.6"/><circle cx="441.2" cy="439.2" r="1.6"/><circle cx="442.8" cy="437.4" r="1.6"/><circle cx="441.8" cy="438.6" r="1.6"/><circle cx="441.9" cy="438.4" r="1.6"/><circle cx="442.5" cy="435.2" r="1.6"/><circle cx="442.0" cy="436.9" r="1.6"/><circle cx="442.9" cy="437.5" r="1.6"/><circle cx="443.3" cy="434.4" r="1.6"/><circle cx="443.2" cy="435.8" r="1.6"/><circle cx="443.2" cy="437.4" r="1.6"/><circle cx="443.0" cy="436.4" r="1.6"/><circle cx="443.1" cy="437.2" r="1.6"/><circle cx="443.5" cy="435.8" r="1.6"/><circle cx="444.1" cy="435.5" r="1.6"/><circle cx="444.6" cy="435.5" r="1.6"/><circle cx="444.7" cy="437.3" r="1.6"/><circle cx="444.2" cy="436.4" r="1.6"/><circle cx="444.5" cy="436.2" r="1.6"/><circle cx="444.9" cy="440.2" r="1.6"/><circle cx="445.0" cy="439.8" r="1.6"/><circle cx="445.6" cy="434.7" r="1.6"/><circle cx="444.7" cy="438.3" r="1.6"/><circle cx="445.0" cy="438.4" r="1.6"/><circle cx="446.4" cy="437.9" r="1.6"/><circle cx="446.1" cy="436.9" r="1.6"/><circle cx="446.5" cy="436.8" r="1.6"/><circle cx="446.4" cy="436.8" r="1.6"/><circle cx="447.3" cy="436.4" r="1.6"/><circle cx="447.1" cy="435.6" r="1.6"/><circle cx="446.9" cy="435.3" r="1.6"/><circle cx="447.3" cy="438.8" r="1.6"/><circle cx="447.7" cy="436.9" r="1.6"/><circle cx="448.0" cy="437.1" r="1.6"/><circle cx="448.1" cy="438.2" r="1.6"/><circle cx="448.4" cy="434.0" r="1.6"/><circle cx="447.9" cy="439.0" r="1.6"/><circle cx="448.6" cy="441.4" r="1.6"/><circle cx="448.7" cy="436.9" r="1.6"/><circle cx="449.6" cy="438.7" r="1.6"/><circle cx="449.9" cy="438.6" r="1.6"/><circle cx="449.3" cy="439.0" r="1.6"/><circle cx="449.3" cy="437.2" r="1.6"/><circle cx="449.6" cy="437.6" r="1.6"/><circle cx="450.3" cy="437.2" r="1.6"/><circle cx="450.3" cy="437.2" r="1.6"/><circle cx="450.7" cy="434.5" r="1.6"/><circle cx="450.5" cy="438.2" r="1.6"/><circle cx="450.4" cy="439.5" r="1.6"/><circle cx="451.1" cy="440.0" r="1.6"/><circle cx="451.6" cy="439.0" r="1.6"/><circle cx="451.3" cy="436.3" r="1.6"/><circle cx="451.5" cy="437.3" r="1.6"/><circle cx="451.9" cy="437.2" r="1.6"/><circle cx="453.2" cy="435.4" r="1.6"/><circle cx="452.7" cy="437.2" r="1.6"/><circle cx="452.3" cy="439.5" r="1.6"/><circle cx="452.6" cy="435.9" r="1.6"/><circle cx="453.0" cy="437.6" r="1.6"/><circle cx="452.2" cy="438.3" r="1.6"/><circle cx="452.8" cy="436.7" r="1.6"/><circle cx="453.6" cy="438.5" r="1.6"/><circle cx="453.5" cy="441.8" r="1.6"/><circle cx="454.0" cy="436.8" r="1.6"/><circle cx="454.1" cy="437.8" r="1.6"/><circle cx="453.3" cy="435.2" r="1.6"/><circle cx="453.9" cy="442.1" r="1.6"/><circle cx="454.5" cy="437.8" r="1.6"/><circle cx="454.6" cy="440.3" r="1.6"/><circle cx="455.0" cy="441.9" r="1.6"/><circle cx="455.5" cy="441.9" r="1.6"/><circle cx="455.4" cy="439.6" r="1.6"/><circle cx="455.4" cy="438.6" r="1.6"/><circle cx="455.1" cy="437.9" r="1.6"/><circle cx="455.6" cy="437.9" r="1.6"/><circle cx="456.7" cy="439.8" r="1.6"/><circle cx="456.9" cy="441.2" r="1.6"/><circle cx="457.0" cy="441.6" r="1.6"/><circle cx="456.6" cy="441.3" r="1.6"/><circle cx="456.9" cy="438.7" r="1.6"/><circle cx="457.7" cy="444.5" r="1.6"/><circle cx="457.0" cy="443.6" r="1.6"/><circle cx="457.9" cy="438.1" r="1.6"/><circle cx="457.9" cy="440.6" r="1.6"/><circle cx="458.1" cy="439.1" r="1.6"/><circle cx="457.7" cy="439.9" r="1.6"/><circle cx="458.7" cy="441.5" r="1.6"/><circle cx="458.9" cy="442.1" r="1.6"/><circle cx="458.4" cy="439.7" r="1.6"/><circle cx="459.1" cy="441.9" r="1.6"/><circle cx="459.3" cy="440.8" r="1.6"/><circle cx="459.5" cy="444.1" r="1.6"/><circle cx="458.8" cy="439.6" r="1.6"/><circle cx="460.8" cy="440.2" r="1.6"/><circle cx="459.3" cy="439.9" r="1.6"/><circle cx="459.6" cy="438.2" r="1.6"/><circle cx="460.5" cy="443.2" r="1.6"/><circle cx="460.8" cy="441.1" r="1.6"/><circle cx="461.2" cy="440.2" r="1.6"/><circle cx="460.7" cy="439.6" r="1.6"/><circle cx="461.3" cy="439.4" r="1.6"/><circle cx="461.1" cy="439.3" r="1.6"/><circle cx="461.0" cy="438.1" r="1.6"/><circle cx="461.8" cy="439.5" r="1.6"/><circle cx="462.0" cy="443.1" r="1.6"/><circle cx="462.3" cy="440.4" r="1.6"/><circle cx="461.9" cy="438.5" r="1.6"/><circle cx="462.7" cy="439.0" r="1.6"/><circle cx="463.0" cy="438.7" r="1.6"/><circle cx="463.1" cy="440.7" r="1.6"/><circle cx="463.6" cy="440.2" r="1.6"/><circle cx="463.3" cy="441.5" r="1.6"/><circle cx="463.6" cy="444.2" r="1.6"/><circle cx="463.7" cy="440.3" r="1.6"/><circle cx="463.9" cy="442.1" r="1.6"/><circle cx="464.3" cy="442.6" r="1.6"/><circle cx="463.9" cy="445.4" r="1.6"/><circle cx="465.3" cy="441.4" r="1.6"/><circle cx="464.3" cy="441.8" r="1.6"/><circle cx="465.2" cy="437.8" r="1.6"/><circle cx="465.2" cy="439.1" r="1.6"/><circle cx="465.6" cy="443.9" r="1.6"/><circle cx="466.0" cy="439.2" r="1.6"/><circle cx="466.3" cy="443.2" r="1.6"/><circle cx="465.9" cy="442.6" r="1.6"/><circle cx="466.8" cy="441.3" r="1.6"/><circle cx="466.4" cy="441.0" r="1.6"/><circle cx="467.0" cy="438.6" r="1.6"/><circle cx="467.3" cy="440.5" r="1.6"/><circle cx="467.4" cy="439.6" r="1.6"/><circle cx="466.8" cy="441.2" r="1.6"/><circle cx="467.7" cy="439.8" r="1.6"/><circle cx="467.8" cy="441.4" r="1.6"/><circle cx="468.3" cy="442.1" r="1.6"/><circle cx="468.2" cy="442.5" r="1.6"/><circle cx="468.9" cy="442.4" r="1.6"/><circle cx="468.4" cy="446.2" r="1.6"/><circle cx="468.6" cy="444.4" r="1.6"/><circle cx="468.5" cy="443.8" r="1.6"/><circle cx="468.1" cy="443.8" r="1.6"/><circle cx="469.0" cy="441.5" r="1.6"/><circle cx="468.9" cy="445.9" r="1.6"/><circle cx="469.8" cy="441.8" r="1.6"/><circle cx="470.5" cy="443.3" r="1.6"/><circle cx="469.9" cy="445.0" r="1.6"/><circle cx="469.8" cy="442.1" r="1.6"/><circle cx="470.1" cy="446.9" r="1.6"/><circle cx="471.0" cy="442.5" r="1.6"/><circle cx="471.3" cy="445.3" r="1.6"/><circle cx="471.2" cy="445.4" r="1.6"/><circle cx="471.4" cy="443.8" r="1.6"/><circle cx="471.1" cy="444.4" r="1.6"/><circle cx="471.5" cy="446.6" r="1.6"/><circle cx="471.3" cy="448.2" r="1.6"/><circle cx="471.8" cy="444.9" r="1.6"/><circle cx="472.5" cy="446.6" r="1.6"/><circle cx="472.3" cy="444.3" r="1.6"/><circle cx="472.2" cy="443.6" r="1.6"/><circle cx="473.2" cy="447.9" r="1.6"/><circle cx="473.7" cy="447.1" r="1.6"/><circle cx="473.3" cy="447.6" r="1.6"/><circle cx="473.8" cy="446.1" r="1.6"/><circle cx="473.7" cy="449.8" r="1.6"/><circle cx="473.1" cy="444.6" r="1.6"/><circle cx="473.6" cy="447.9" r="1.6"/><circle cx="474.7" cy="446.4" r="1.6"/><circle cx="474.7" cy="446.9" r="1.6"/><circle cx="474.7" cy="446.3" r="1.6"/><circle cx="474.8" cy="447.2" r="1.6"/><circle cx="475.4" cy="450.5" r="1.6"/><circle cx="474.5" cy="448.1" r="1.6"/><circle cx="475.4" cy="448.9" r="1.6"/><circle cx="476.0" cy="448.7" r="1.6"/><circle cx="476.1" cy="446.3" r="1.6"/><circle cx="475.3" cy="450.1" r="1.6"/><circle cx="476.7" cy="446.5" r="1.6"/><circle cx="476.9" cy="448.9" r="1.6"/><circle cx="475.7" cy="449.3" r="1.6"/><circle cx="476.4" cy="449.7" r="1.6"/><circle cx="476.7" cy="447.2" r="1.6"/><circle cx="476.6" cy="448.0" r="1.6"/><circle cx="477.8" cy="447.3" r="1.6"/><circle cx="476.9" cy="451.5" r="1.6"/><circle cx="478.5" cy="449.4" r="1.6"/><circle cx="477.8" cy="446.4" r="1.6"/><circle cx="477.6" cy="449.2" r="1.6"/><circle cx="478.9" cy="446.5" r="1.6"/><circle cx="478.6" cy="447.8" r="1.6"/><circle cx="478.7" cy="449.2" r="1.6"/><circle cx="479.8" cy="447.1" r="1.6"/><circle cx="479.5" cy="450.4" r="1.6"/><circle cx="479.3" cy="448.0" r="1.6"/><circle cx="479.1" cy="450.5" r="1.6"/><circle cx="479.6" cy="446.9" r="1.6"/><circle cx="480.0" cy="446.4" r="1.6"/><circle cx="479.8" cy="447.6" r="1.6"/><circle cx="481.0" cy="447.8" r="1.6"/><circle cx="480.8" cy="444.8" r="1.6"/><circle cx="480.0" cy="452.6" r="1.6"/><circle cx="480.8" cy="444.5" r="1.6"/><circle cx="481.2" cy="449.7" r="1.6"/><circle cx="480.7" cy="445.9" r="1.6"/><circle cx="481.7" cy="445.7" r="1.6"/><circle cx="482.1" cy="450.7" r="1.6"/><circle cx="482.2" cy="446.9" r="1.6"/><circle cx="482.2" cy="446.3" r="1.6"/><circle cx="482.3" cy="449.0" r="1.6"/><circle cx="482.5" cy="451.0" r="1.6"/><circle cx="483.8" cy="447.2" r="1.6"/><circle cx="483.1" cy="450.9" r="1.6"/><circle cx="483.4" cy="448.5" r="1.6"/><circle cx="483.2" cy="451.7" r="1.6"/><circle cx="483.8" cy="450.7" r="1.6"/><circle cx="483.5" cy="451.0" r="1.6"/><circle cx="484.3" cy="449.2" r="1.6"/><circle cx="484.4" cy="454.4" r="1.6"/><circle cx="483.7" cy="450.9" r="1.6"/><circle cx="484.1" cy="446.6" r="1.6"/><circle cx="484.7" cy="450.8" r="1.6"/><circle cx="485.0" cy="447.1" r="1.6"/><circle cx="484.6" cy="448.4" r="1.6"/><circle cx="485.4" cy="447.8" r="1.6"/><circle cx="485.0" cy="453.3" r="1.6"/><circle cx="485.5" cy="449.3" r="1.6"/><circle cx="485.8" cy="448.4" r="1.6"/><circle cx="486.2" cy="449.0" r="1.6"/><circle cx="486.6" cy="447.2" r="1.6"/><circle cx="486.0" cy="453.5" r="1.6"/><circle cx="486.8" cy="451.1" r="1.6"/><circle cx="487.5" cy="450.7" r="1.6"/><circle cx="487.2" cy="446.6" r="1.6"/><circle cx="486.8" cy="451.6" r="1.6"/><circle cx="487.9" cy="450.9" r="1.6"/><circle cx="487.2" cy="445.6" r="1.6"/><circle cx="487.6" cy="447.5" r="1.6"/><circle cx="488.3" cy="447.8" r="1.6"/><circle cx="489.0" cy="448.7" r="1.6"/><circle cx="488.4" cy="451.7" r="1.6"/><circle cx="488.9" cy="448.2" r="1.6"/><circle cx="489.3" cy="453.8" r="1.6"/><circle cx="488.7" cy="449.6" r="1.6"/><circle cx="489.0" cy="446.3" r="1.6"/><circle cx="489.8" cy="451.5" r="1.6"/><circle cx="490.2" cy="451.0" r="1.6"/><circle cx="489.2" cy="450.2" r="1.6"/><circle cx="489.9" cy="448.0" r="1.6"/><circle cx="490.0" cy="451.8" r="1.6"/><circle cx="490.5" cy="454.2" r="1.6"/><circle cx="491.0" cy="446.6" r="1.6"/><circle cx="491.3" cy="452.9" r="1.6"/><circle cx="491.2" cy="448.1" r="1.6"/><circle cx="492.1" cy="447.9" r="1.6"/><circle cx="491.6" cy="446.8" r="1.6"/><circle cx="491.3" cy="447.2" r="1.6"/><circle cx="492.4" cy="453.0" r="1.6"/><circle cx="492.0" cy="448.0" r="1.6"/><circle cx="492.4" cy="451.5" r="1.6"/><circle cx="492.0" cy="448.4" r="1.6"/><circle cx="492.8" cy="452.2" r="1.6"/><circle cx="493.0" cy="451.7" r="1.6"/><circle cx="492.7" cy="446.4" r="1.6"/><circle cx="493.5" cy="449.1" r="1.6"/><circle cx="493.6" cy="450.2" r="1.6"/><circle cx="494.0" cy="449.5" r="1.6"/><circle cx="494.6" cy="451.2" r="1.6"/><circle cx="494.4" cy="452.5" r="1.6"/><circle cx="494.8" cy="452.1" r="1.6"/><circle cx="493.9" cy="450.1" r="1.6"/><circle cx="495.5" cy="452.4" r="1.6"/><circle cx="495.2" cy="452.5" r="1.6"/><circle cx="494.9" cy="450.3" r="1.6"/><circle cx="495.1" cy="454.0" r="1.6"/><circle cx="495.7" cy="455.3" r="1.6"/><circle cx="496.0" cy="455.6" r="1.6"/><circle cx="496.2" cy="449.6" r="1.6"/><circle cx="496.9" cy="452.7" r="1.6"/><circle cx="496.9" cy="452.5" r="1.6"/><circle cx="496.5" cy="452.5" r="1.6"/><circle cx="496.4" cy="449.9" r="1.6"/><circle cx="496.7" cy="451.4" r="1.6"/><circle cx="496.7" cy="452.4" r="1.6"/><circle cx="497.5" cy="456.7" r="1.6"/><circle cx="498.3" cy="452.8" r="1.6"/><circle cx="498.1" cy="452.7" r="1.6"/><circle cx="498.2" cy="453.2" r="1.6"/><circle cx="498.0" cy="453.6" r="1.6"/><circle cx="497.8" cy="454.4" r="1.6"/><circle cx="498.5" cy="451.8" r="1.6"/><circle cx="498.7" cy="454.9" r="1.6"/><circle cx="498.7" cy="455.0" r="1.6"/><circle cx="499.4" cy="457.0" r="1.6"/><circle cx="499.0" cy="454.2" r="1.6"/><circle cx="499.8" cy="457.2" r="1.6"/><circle cx="499.9" cy="456.1" r="1.6"/><circle cx="499.4" cy="453.9" r="1.6"/><circle cx="500.9" cy="454.5" r="1.6"/><circle cx="501.3" cy="453.8" r="1.6"/><circle cx="500.5" cy="452.4" r="1.6"/><circle cx="501.1" cy="455.5" r="1.6"/><circle cx="501.8" cy="455.4" r="1.6"/><circle cx="501.1" cy="452.9" r="1.6"/><circle cx="501.4" cy="456.8" r="1.6"/><circle cx="501.9" cy="457.3" r="1.6"/><circle cx="502.1" cy="455.3" r="1.6"/><circle cx="502.2" cy="455.7" r="1.6"/><circle cx="501.7" cy="458.2" r="1.6"/><circle cx="502.5" cy="453.9" r="1.6"/><circle cx="502.8" cy="456.1" r="1.6"/><circle cx="503.2" cy="457.9" r="1.6"/><circle cx="501.8" cy="456.6" r="1.6"/><circle cx="503.8" cy="454.3" r="1.6"/><circle cx="502.7" cy="456.4" r="1.6"/><circle cx="503.7" cy="456.6" r="1.6"/><circle cx="503.4" cy="455.4" r="1.6"/><circle cx="504.1" cy="457.5" r="1.6"/><circle cx="505.1" cy="456.9" r="1.6"/><circle cx="504.2" cy="452.8" r="1.6"/><circle cx="505.0" cy="456.4" r="1.6"/><circle cx="504.8" cy="455.1" r="1.6"/><circle cx="505.3" cy="453.8" r="1.6"/><circle cx="505.2" cy="457.2" r="1.6"/><circle cx="505.5" cy="459.4" r="1.6"/><circle cx="505.6" cy="457.4" r="1.6"/><circle cx="506.1" cy="454.6" r="1.6"/><circle cx="505.9" cy="457.6" r="1.6"/><circle cx="506.6" cy="456.1" r="1.6"/><circle cx="506.7" cy="458.4" r="1.6"/><circle cx="506.0" cy="455.0" r="1.6"/><circle cx="506.2" cy="458.1" r="1.6"/><circle cx="507.1" cy="459.2" r="1.6"/><circle cx="507.5" cy="456.9" r="1.6"/><circle cx="507.8" cy="459.5" r="1.6"/><circle cx="507.8" cy="458.9" r="1.6"/><circle cx="507.3" cy="458.7" r="1.6"/><circle cx="507.6" cy="455.8" r="1.6"/><circle cx="508.1" cy="458.4" r="1.6"/><circle cx="508.4" cy="457.5" r="1.6"/><circle cx="508.2" cy="458.5" r="1.6"/><circle cx="508.5" cy="455.6" r="1.6"/><circle cx="509.0" cy="461.0" r="1.6"/><circle cx="509.0" cy="456.3" r="1.6"/><circle cx="510.0" cy="461.6" r="1.6"/><circle cx="509.5" cy="458.0" r="1.6"/><circle cx="509.9" cy="462.6" r="1.6"/><circle cx="510.1" cy="460.3" r="1.6"/><circle cx="510.4" cy="455.1" r="1.6"/><circle cx="510.0" cy="456.2" r="1.6"/><circle cx="510.8" cy="458.8" r="1.6"/><circle cx="511.5" cy="458.1" r="1.6"/><circle cx="511.1" cy="458.8" r="1.6"/><circle cx="511.3" cy="462.8" r="1.6"/><circle cx="511.5" cy="461.5" r="1.6"/><circle cx="512.1" cy="457.6" r="1.6"/><circle cx="512.1" cy="458.0" r="1.6"/><circle cx="512.0" cy="459.1" r="1.6"/><circle cx="512.2" cy="457.9" r="1.6"/><circle cx="513.0" cy="458.4" r="1.6"/><circle cx="512.9" cy="462.1" r="1.6"/><circle cx="513.0" cy="460.9" r="1.6"/><circle cx="513.6" cy="461.0" r="1.6"/><circle cx="513.9" cy="456.3" r="1.6"/><circle cx="514.2" cy="459.2" r="1.6"/><circle cx="512.9" cy="458.0" r="1.6"/><circle cx="513.2" cy="459.2" r="1.6"/><circle cx="513.4" cy="457.5" r="1.6"/><circle cx="514.3" cy="459.7" r="1.6"/><circle cx="514.1" cy="459.1" r="1.6"/><circle cx="514.6" cy="459.8" r="1.6"/><circle cx="514.8" cy="459.3" r="1.6"/><circle cx="515.4" cy="456.8" r="1.6"/><circle cx="515.0" cy="460.1" r="1.6"/><circle cx="515.2" cy="458.9" r="1.6"/><circle cx="515.4" cy="460.4" r="1.6"/><circle cx="516.3" cy="459.8" r="1.6"/><circle cx="515.9" cy="460.8" r="1.6"/><circle cx="516.1" cy="456.8" r="1.6"/><circle cx="516.5" cy="459.7" r="1.6"/><circle cx="516.4" cy="461.6" r="1.6"/><circle cx="516.8" cy="459.5" r="1.6"/><circle cx="516.1" cy="457.5" r="1.6"/><circle cx="517.2" cy="460.4" r="1.6"/><circle cx="517.6" cy="461.1" r="1.6"/><circle cx="517.4" cy="458.5" r="1.6"/><circle cx="517.4" cy="460.5" r="1.6"/><circle cx="517.5" cy="462.2" r="1.6"/><circle cx="517.7" cy="457.7" r="1.6"/><circle cx="518.3" cy="457.8" r="1.6"/><circle cx="519.3" cy="459.3" r="1.6"/><circle cx="518.8" cy="460.7" r="1.6"/><circle cx="518.7" cy="458.0" r="1.6"/><circle cx="518.5" cy="462.8" r="1.6"/><circle cx="519.8" cy="465.2" r="1.6"/><circle cx="519.0" cy="462.3" r="1.6"/><circle cx="519.8" cy="462.9" r="1.6"/><circle cx="519.8" cy="462.7" r="1.6"/><circle cx="520.6" cy="462.5" r="1.6"/><circle cx="521.0" cy="461.0" r="1.6"/><circle cx="521.2" cy="460.0" r="1.6"/><circle cx="521.5" cy="457.0" r="1.6"/><circle cx="521.0" cy="459.7" r="1.6"/><circle cx="521.2" cy="463.3" r="1.6"/><circle cx="521.7" cy="461.4" r="1.6"/><circle cx="522.3" cy="458.2" r="1.6"/><circle cx="521.5" cy="464.3" r="1.6"/><circle cx="522.1" cy="456.8" r="1.6"/><circle cx="522.3" cy="458.6" r="1.6"/><circle cx="523.0" cy="463.6" r="1.6"/><circle cx="522.4" cy="464.0" r="1.6"/><circle cx="522.5" cy="463.1" r="1.6"/><circle cx="523.2" cy="460.8" r="1.6"/><circle cx="522.6" cy="460.4" r="1.6"/><circle cx="522.5" cy="459.8" r="1.6"/><circle cx="522.9" cy="464.0" r="1.6"/><circle cx="523.4" cy="456.1" r="1.6"/><circle cx="524.2" cy="462.2" r="1.6"/><circle cx="524.0" cy="466.4" r="1.6"/><circle cx="524.7" cy="461.6" r="1.6"/><circle cx="524.3" cy="456.2" r="1.6"/><circle cx="525.0" cy="463.8" r="1.6"/><circle cx="524.8" cy="458.1" r="1.6"/><circle cx="525.2" cy="457.5" r="1.6"/><circle cx="525.4" cy="463.6" r="1.6"/><circle cx="526.2" cy="462.4" r="1.6"/><circle cx="525.9" cy="463.6" r="1.6"/><circle cx="526.6" cy="461.0" r="1.6"/><circle cx="525.7" cy="459.9" r="1.6"/><circle cx="525.9" cy="459.6" r="1.6"/><circle cx="526.6" cy="462.7" r="1.6"/><circle cx="526.9" cy="461.9" r="1.6"/><circle cx="526.9" cy="462.8" r="1.6"/><circle cx="527.6" cy="463.5" r="1.6"/><circle cx="528.0" cy="460.9" r="1.6"/><circle cx="527.5" cy="465.7" r="1.6"/><circle cx="527.9" cy="462.5" r="1.6"/><circle cx="527.9" cy="463.8" r="1.6"/><circle cx="528.0" cy="459.0" r="1.6"/><circle cx="528.4" cy="460.3" r="1.6"/><circle cx="528.9" cy="460.4" r="1.6"/><circle cx="528.8" cy="460.7" r="1.6"/><circle cx="529.1" cy="459.7" r="1.6"/><circle cx="529.6" cy="457.9" r="1.6"/><circle cx="529.2" cy="459.5" r="1.6"/><circle cx="529.9" cy="461.1" r="1.6"/><circle cx="530.0" cy="460.3" r="1.6"/><circle cx="529.7" cy="458.6" r="1.6"/><circle cx="530.1" cy="460.0" r="1.6"/><circle cx="530.5" cy="462.0" r="1.6"/><circle cx="531.0" cy="461.0" r="1.6"/><circle cx="530.5" cy="459.0" r="1.6"/><circle cx="531.0" cy="462.1" r="1.6"/><circle cx="532.0" cy="461.8" r="1.6"/><circle cx="532.1" cy="465.3" r="1.6"/><circle cx="531.2" cy="464.0" r="1.6"/><circle cx="532.3" cy="464.3" r="1.6"/><circle cx="532.0" cy="463.5" r="1.6"/><circle cx="532.0" cy="461.4" r="1.6"/><circle cx="532.4" cy="465.2" r="1.6"/><circle cx="532.5" cy="463.5" r="1.6"/><circle cx="532.8" cy="460.3" r="1.6"/><circle cx="533.1" cy="463.0" r="1.6"/><circle cx="532.9" cy="463.0" r="1.6"/><circle cx="533.1" cy="460.2" r="1.6"/><circle cx="533.7" cy="461.5" r="1.6"/><circle cx="533.4" cy="459.0" r="1.6"/><circle cx="534.0" cy="462.6" r="1.6"/><circle cx="534.0" cy="462.5" r="1.6"/><circle cx="533.8" cy="463.0" r="1.6"/><circle cx="534.8" cy="462.8" r="1.6"/><circle cx="534.6" cy="462.6" r="1.6"/><circle cx="535.1" cy="464.4" r="1.6"/><circle cx="535.3" cy="463.0" r="1.6"/><circle cx="535.1" cy="464.2" r="1.6"/><circle cx="536.1" cy="461.9" r="1.6"/><circle cx="536.1" cy="463.3" r="1.6"/><circle cx="536.0" cy="460.7" r="1.6"/><circle cx="536.9" cy="459.7" r="1.6"/><circle cx="536.5" cy="462.2" r="1.6"/><circle cx="537.1" cy="462.0" r="1.6"/><circle cx="536.8" cy="463.7" r="1.6"/><circle cx="537.2" cy="461.7" r="1.6"/><circle cx="537.5" cy="463.2" r="1.6"/><circle cx="537.8" cy="461.6" r="1.6"/><circle cx="537.6" cy="461.7" r="1.6"/><circle cx="537.5" cy="462.8" r="1.6"/><circle cx="538.2" cy="464.8" r="1.6"/><circle cx="538.1" cy="462.9" r="1.6"/><circle cx="538.9" cy="462.0" r="1.6"/><circle cx="538.6" cy="462.3" r="1.6"/><circle cx="538.5" cy="460.2" r="1.6"/><circle cx="539.4" cy="462.3" r="1.6"/><circle cx="539.2" cy="459.6" r="1.6"/><circle cx="539.4" cy="464.0" r="1.6"/><circle cx="539.1" cy="460.0" r="1.6"/><circle cx="540.2" cy="464.5" r="1.6"/><circle cx="540.6" cy="460.4" r="1.6"/><circle cx="540.4" cy="459.8" r="1.6"/><circle cx="540.6" cy="460.5" r="1.6"/><circle cx="540.7" cy="464.1" r="1.6"/><circle cx="540.9" cy="460.5" r="1.6"/><circle cx="541.0" cy="461.6" r="1.6"/><circle cx="541.0" cy="461.3" r="1.6"/><circle cx="541.6" cy="464.5" r="1.6"/><circle cx="540.8" cy="457.9" r="1.6"/><circle cx="541.3" cy="462.9" r="1.6"/><circle cx="543.0" cy="461.2" r="1.6"/><circle cx="542.2" cy="463.5" r="1.6"/><circle cx="541.4" cy="460.3" r="1.6"/><circle cx="541.4" cy="461.1" r="1.6"/><circle cx="542.6" cy="459.5" r="1.6"/><circle cx="543.1" cy="459.2" r="1.6"/><circle cx="543.6" cy="460.6" r="1.6"/><circle cx="543.6" cy="466.0" r="1.6"/><circle cx="543.4" cy="462.8" r="1.6"/><circle cx="543.5" cy="463.5" r="1.6"/><circle cx="544.4" cy="460.8" r="1.6"/><circle cx="544.6" cy="464.3" r="1.6"/><circle cx="544.9" cy="460.5" r="1.6"/><circle cx="544.6" cy="463.1" r="1.6"/><circle cx="544.2" cy="459.0" r="1.6"/><circle cx="545.2" cy="461.7" r="1.6"/><circle cx="545.9" cy="464.5" r="1.6"/><circle cx="545.5" cy="461.4" r="1.6"/><circle cx="545.1" cy="459.9" r="1.6"/><circle cx="545.9" cy="459.7" r="1.6"/><circle cx="546.0" cy="461.7" r="1.6"/><circle cx="545.8" cy="459.0" r="1.6"/><circle cx="545.7" cy="463.0" r="1.6"/><circle cx="546.2" cy="456.6" r="1.6"/><circle cx="547.1" cy="460.0" r="1.6"/><circle cx="547.4" cy="459.8" r="1.6"/><circle cx="548.0" cy="462.2" r="1.6"/><circle cx="547.5" cy="461.0" r="1.6"/><circle cx="547.5" cy="462.5" r="1.6"/><circle cx="548.6" cy="460.0" r="1.6"/><circle cx="547.6" cy="462.1" r="1.6"/><circle cx="548.6" cy="458.0" r="1.6"/><circle cx="548.1" cy="459.0" r="1.6"/><circle cx="548.8" cy="462.1" r="1.6"/><circle cx="548.5" cy="459.0" r="1.6"/><circle cx="549.3" cy="457.3" r="1.6"/><circle cx="549.5" cy="461.0" r="1.6"/><circle cx="550.2" cy="463.0" r="1.6"/><circle cx="549.4" cy="460.6" r="1.6"/><circle cx="549.7" cy="459.7" r="1.6"/><circle cx="550.0" cy="462.8" r="1.6"/><circle cx="549.6" cy="460.5" r="1.6"/><circle cx="551.0" cy="462.3" r="1.6"/><circle cx="550.3" cy="459.2" r="1.6"/><circle cx="550.5" cy="457.6" r="1.6"/><circle cx="551.5" cy="460.8" r="1.6"/><circle cx="550.9" cy="457.7" r="1.6"/><circle cx="551.2" cy="459.5" r="1.6"/><circle cx="552.3" cy="459.5" r="1.6"/><circle cx="551.8" cy="462.5" r="1.6"/><circle cx="552.3" cy="459.9" r="1.6"/><circle cx="551.3" cy="463.1" r="1.6"/><circle cx="552.6" cy="459.2" r="1.6"/><circle cx="552.6" cy="458.2" r="1.6"/><circle cx="552.4" cy="457.1" r="1.6"/><circle cx="553.2" cy="461.3" r="1.6"/><circle cx="553.3" cy="461.8" r="1.6"/><circle cx="553.6" cy="460.5" r="1.6"/><circle cx="553.3" cy="461.5" r="1.6"/><circle cx="554.3" cy="461.6" r="1.6"/><circle cx="554.5" cy="459.5" r="1.6"/><circle cx="553.8" cy="462.9" r="1.6"/><circle cx="554.2" cy="460.9" r="1.6"/><circle cx="554.5" cy="460.6" r="1.6"/><circle cx="554.7" cy="459.5" r="1.6"/><circle cx="554.3" cy="464.2" r="1.6"/><circle cx="555.3" cy="457.0" r="1.6"/><circle cx="555.0" cy="458.6" r="1.6"/><circle cx="555.3" cy="456.6" r="1.6"/><circle cx="556.0" cy="463.8" r="1.6"/><circle cx="555.9" cy="462.2" r="1.6"/><circle cx="556.4" cy="458.6" r="1.6"/><circle cx="556.9" cy="457.9" r="1.6"/><circle cx="556.4" cy="460.4" r="1.6"/><circle cx="557.3" cy="461.3" r="1.6"/><circle cx="557.0" cy="459.7" r="1.6"/><circle cx="557.2" cy="461.3" r="1.6"/><circle cx="557.7" cy="463.7" r="1.6"/><circle cx="557.9" cy="461.4" r="1.6"/><circle cx="557.7" cy="464.1" r="1.6"/><circle cx="558.1" cy="461.4" r="1.6"/><circle cx="558.9" cy="464.2" r="1.6"/><circle cx="558.6" cy="461.3" r="1.6"/><circle cx="558.4" cy="463.1" r="1.6"/><circle cx="558.6" cy="462.8" r="1.6"/><circle cx="558.7" cy="461.1" r="1.6"/><circle cx="559.4" cy="461.0" r="1.6"/><circle cx="559.5" cy="461.2" r="1.6"/><circle cx="559.2" cy="458.3" r="1.6"/><circle cx="559.7" cy="463.6" r="1.6"/><circle cx="560.0" cy="458.2" r="1.6"/><circle cx="559.9" cy="459.9" r="1.6"/><circle cx="560.9" cy="458.5" r="1.6"/><circle cx="560.8" cy="459.8" r="1.6"/><circle cx="560.7" cy="457.3" r="1.6"/><circle cx="560.9" cy="457.6" r="1.6"/><circle cx="561.4" cy="455.2" r="1.6"/><circle cx="561.8" cy="460.3" r="1.6"/><circle cx="561.8" cy="461.8" r="1.6"/><circle cx="562.0" cy="455.0" r="1.6"/><circle cx="562.0" cy="459.5" r="1.6"/><circle cx="561.9" cy="456.2" r="1.6"/><circle cx="562.6" cy="459.6" r="1.6"/><circle cx="562.4" cy="458.0" r="1.6"/><circle cx="562.6" cy="457.4" r="1.6"/><circle cx="563.0" cy="460.6" r="1.6"/><circle cx="562.6" cy="457.8" r="1.6"/><circle cx="564.0" cy="459.1" r="1.6"/><circle cx="563.7" cy="460.1" r="1.6"/><circle cx="563.4" cy="456.2" r="1.6"/><circle cx="563.4" cy="455.8" r="1.6"/><circle cx="564.3" cy="460.0" r="1.6"/><circle cx="564.2" cy="457.2" r="1.6"/><circle cx="564.8" cy="459.5" r="1.6"/><circle cx="564.9" cy="455.1" r="1.6"/><circle cx="564.8" cy="454.4" r="1.6"/><circle cx="565.3" cy="457.0" r="1.6"/><circle cx="565.1" cy="461.3" r="1.6"/><circle cx="566.1" cy="459.5" r="1.6"/><circle cx="565.9" cy="459.0" r="1.6"/><circle cx="565.8" cy="458.6" r="1.6"/><circle cx="566.9" cy="457.1" r="1.6"/><circle cx="566.1" cy="459.1" r="1.6"/><circle cx="566.9" cy="460.5" r="1.6"/><circle cx="566.4" cy="458.6" r="1.6"/><circle cx="566.9" cy="456.5" r="1.6"/><circle cx="567.2" cy="458.0" r="1.6"/><circle cx="567.8" cy="459.9" r="1.6"/><circle cx="567.3" cy="459.2" r="1.6"/><circle cx="567.7" cy="457.8" r="1.6"/><circle cx="567.8" cy="461.4" r="1.6"/><circle cx="568.0" cy="455.4" r="1.6"/><circle cx="568.1" cy="460.8" r="1.6"/><circle cx="569.4" cy="456.5" r="1.6"/><circle cx="568.7" cy="458.0" r="1.6"/><circle cx="568.5" cy="459.5" r="1.6"/><circle cx="569.2" cy="459.1" r="1.6"/><circle cx="570.3" cy="457.7" r="1.6"/><circle cx="569.9" cy="460.1" r="1.6"/><circle cx="569.6" cy="456.6" r="1.6"/><circle cx="570.6" cy="459.6" r="1.6"/><circle cx="570.3" cy="455.1" r="1.6"/><circle cx="570.7" cy="458.9" r="1.6"/><circle cx="571.5" cy="461.1" r="1.6"/><circle cx="571.1" cy="458.0" r="1.6"/><circle cx="571.0" cy="455.8" r="1.6"/><circle cx="571.3" cy="457.7" r="1.6"/><circle cx="571.7" cy="459.7" r="1.6"/><circle cx="571.7" cy="455.3" r="1.6"/><circle cx="572.1" cy="460.7" r="1.6"/><circle cx="571.7" cy="457.6" r="1.6"/><circle cx="572.4" cy="457.8" r="1.6"/><circle cx="572.6" cy="456.0" r="1.6"/><circle cx="572.6" cy="460.6" r="1.6"/><circle cx="573.5" cy="452.2" r="1.6"/><circle cx="572.0" cy="457.0" r="1.6"/><circle cx="572.9" cy="454.3" r="1.6"/><circle cx="572.8" cy="456.5" r="1.6"/><circle cx="573.6" cy="453.9" r="1.6"/><circle cx="574.1" cy="461.4" r="1.6"/><circle cx="574.6" cy="458.3" r="1.6"/><circle cx="574.0" cy="456.8" r="1.6"/><circle cx="574.4" cy="458.0" r="1.6"/><circle cx="574.8" cy="454.6" r="1.6"/><circle cx="575.0" cy="452.8" r="1.6"/><circle cx="575.3" cy="458.7" r="1.6"/><circle cx="575.1" cy="456.2" r="1.6"/><circle cx="574.8" cy="457.1" r="1.6"/><circle cx="575.9" cy="452.2" r="1.6"/><circle cx="576.5" cy="455.0" r="1.6"/><circle cx="575.3" cy="451.5" r="1.6"/><circle cx="576.5" cy="454.1" r="1.6"/><circle cx="576.8" cy="451.3" r="1.6"/><circle cx="576.6" cy="456.9" r="1.6"/><circle cx="576.5" cy="456.2" r="1.6"/><circle cx="576.9" cy="455.5" r="1.6"/><circle cx="577.3" cy="459.2" r="1.6"/><circle cx="576.9" cy="456.3" r="1.6"/><circle cx="578.1" cy="452.7" r="1.6"/><circle cx="577.8" cy="458.8" r="1.6"/><circle cx="578.4" cy="450.9" r="1.6"/><circle cx="578.1" cy="451.8" r="1.6"/><circle cx="578.5" cy="453.6" r="1.6"/><circle cx="578.4" cy="453.4" r="1.6"/><circle cx="578.9" cy="454.1" r="1.6"/><circle cx="578.6" cy="454.5" r="1.6"/><circle cx="579.4" cy="453.4" r="1.6"/><circle cx="579.8" cy="452.1" r="1.6"/><circle cx="579.8" cy="454.2" r="1.6"/><circle cx="580.4" cy="453.8" r="1.6"/><circle cx="579.7" cy="452.7" r="1.6"/><circle cx="581.0" cy="456.0" r="1.6"/><circle cx="580.0" cy="454.4" r="1.6"/><circle cx="580.2" cy="457.5" r="1.6"/><circle cx="581.0" cy="451.6" r="1.6"/><circle cx="581.1" cy="456.5" r="1.6"/><circle cx="581.2" cy="455.8" r="1.6"/><circle cx="581.4" cy="455.3" r="1.6"/><circle cx="581.7" cy="453.8" r="1.6"/><circle cx="581.9" cy="455.3" r="1.6"/><circle cx="582.0" cy="453.9" r="1.6"/><circle cx="581.8" cy="455.4" r="1.6"/><circle cx="582.7" cy="451.3" r="1.6"/><circle cx="582.4" cy="457.2" r="1.6"/><circle cx="583.2" cy="453.8" r="1.6"/><circle cx="583.5" cy="453.4" r="1.6"/><circle cx="582.9" cy="458.2" r="1.6"/><circle cx="583.2" cy="454.6" r="1.6"/><circle cx="583.0" cy="453.3" r="1.6"/><circle cx="583.3" cy="454.8" r="1.6"/><circle cx="583.3" cy="456.8" r="1.6"/><circle cx="584.1" cy="454.0" r="1.6"/><circle cx="584.2" cy="456.2" r="1.6"/><circle cx="585.2" cy="454.5" r="1.6"/><circle cx="585.4" cy="457.8" r="1.6"/><circle cx="585.5" cy="455.8" r="1.6"/><circle cx="584.6" cy="456.5" r="1.6"/><circle cx="585.2" cy="455.9" r="1.6"/><circle cx="584.9" cy="455.3" r="1.6"/><circle cx="585.9" cy="454.4" r="1.6"/><circle cx="586.1" cy="458.5" r="1.6"/><circle cx="586.3" cy="455.0" r="1.6"/><circle cx="587.3" cy="453.0" r="1.6"/><circle cx="586.2" cy="456.9" r="1.6"/><circle cx="586.6" cy="453.2" r="1.6"/><circle cx="587.1" cy="457.7" r="1.6"/><circle cx="586.9" cy="458.7" r="1.6"/><circle cx="587.6" cy="458.4" r="1.6"/><circle cx="587.0" cy="456.9" r="1.6"/><circle cx="588.4" cy="459.7" r="1.6"/><circle cx="588.5" cy="457.0" r="1.6"/><circle cx="588.3" cy="456.2" r="1.6"/><circle cx="588.8" cy="456.1" r="1.6"/><circle cx="588.6" cy="454.3" r="1.6"/><circle cx="588.2" cy="459.4" r="1.6"/><circle cx="589.0" cy="457.4" r="1.6"/><circle cx="588.3" cy="457.1" r="1.6"/><circle cx="590.2" cy="455.2" r="1.6"/><circle cx="588.7" cy="457.0" r="1.6"/><circle cx="589.6" cy="457.0" r="1.6"/><circle cx="589.5" cy="455.5" r="1.6"/><circle cx="589.7" cy="458.1" r="1.6"/><circle cx="590.4" cy="458.4" r="1.6"/><circle cx="590.2" cy="458.1" r="1.6"/><circle cx="590.6" cy="457.5" r="1.6"/><circle cx="591.4" cy="457.4" r="1.6"/><circle cx="591.1" cy="455.2" r="1.6"/><circle cx="591.4" cy="458.6" r="1.6"/><circle cx="591.4" cy="457.5" r="1.6"/><circle cx="591.1" cy="455.6" r="1.6"/><circle cx="592.2" cy="459.7" r="1.6"/><circle cx="592.1" cy="454.9" r="1.6"/><circle cx="592.3" cy="455.1" r="1.6"/><circle cx="592.5" cy="461.3" r="1.6"/><circle cx="592.9" cy="457.6" r="1.6"/><circle cx="593.4" cy="457.2" r="1.6"/><circle cx="593.3" cy="458.4" r="1.6"/><circle cx="593.6" cy="455.0" r="1.6"/><circle cx="593.9" cy="460.0" r="1.6"/><circle cx="592.9" cy="453.2" r="1.6"/><circle cx="593.6" cy="461.6" r="1.6"/><circle cx="594.2" cy="459.8" r="1.6"/><circle cx="594.6" cy="460.3" r="1.6"/><circle cx="594.3" cy="456.8" r="1.6"/><circle cx="594.9" cy="459.6" r="1.6"/><circle cx="595.2" cy="458.9" r="1.6"/><circle cx="595.0" cy="460.7" r="1.6"/><circle cx="595.6" cy="460.6" r="1.6"/><circle cx="594.6" cy="460.5" r="1.6"/><circle cx="594.8" cy="458.5" r="1.6"/><circle cx="595.7" cy="458.2" r="1.6"/><circle cx="596.0" cy="457.1" r="1.6"/><circle cx="596.5" cy="458.7" r="1.6"/><circle cx="596.3" cy="452.0" r="1.6"/><circle cx="596.5" cy="459.1" r="1.6"/><circle cx="596.7" cy="458.8" r="1.6"/><circle cx="597.1" cy="455.2" r="1.6"/><circle cx="597.9" cy="462.0" r="1.6"/><circle cx="597.6" cy="457.5" r="1.6"/><circle cx="598.2" cy="454.2" r="1.6"/><circle cx="597.7" cy="460.6" r="1.6"/><circle cx="598.6" cy="456.5" r="1.6"/><circle cx="598.1" cy="458.6" r="1.6"/><circle cx="598.0" cy="456.6" r="1.6"/><circle cx="598.7" cy="452.6" r="1.6"/><circle cx="599.2" cy="459.7" r="1.6"/><circle cx="599.6" cy="454.7" r="1.6"/><circle cx="598.9" cy="456.2" r="1.6"/><circle cx="599.1" cy="462.4" r="1.6"/><circle cx="599.4" cy="457.4" r="1.6"/><circle cx="600.1" cy="459.0" r="1.6"/><circle cx="600.8" cy="455.9" r="1.6"/><circle cx="600.7" cy="458.5" r="1.6"/><circle cx="600.1" cy="458.5" r="1.6"/><circle cx="600.2" cy="461.3" r="1.6"/><circle cx="600.7" cy="460.0" r="1.6"/><circle cx="601.7" cy="456.8" r="1.6"/><circle cx="601.0" cy="458.1" r="1.6"/><circle cx="601.2" cy="459.3" r="1.6"/><circle cx="601.9" cy="456.1" r="1.6"/><circle cx="601.7" cy="458.7" r="1.6"/><circle cx="601.6" cy="460.4" r="1.6"/><circle cx="602.1" cy="456.7" r="1.6"/><circle cx="602.2" cy="460.0" r="1.6"/><circle cx="603.1" cy="459.2" r="1.6"/><circle cx="603.3" cy="456.8" r="1.6"/><circle cx="603.9" cy="457.8" r="1.6"/><circle cx="603.6" cy="457.5" r="1.6"/><circle cx="603.9" cy="456.8" r="1.6"/><circle cx="603.7" cy="453.2" r="1.6"/><circle cx="604.8" cy="453.6" r="1.6"/><circle cx="603.3" cy="454.6" r="1.6"/><circle cx="605.2" cy="458.1" r="1.6"/><circle cx="604.4" cy="456.2" r="1.6"/><circle cx="604.8" cy="451.9" r="1.6"/><circle cx="604.9" cy="456.0" r="1.6"/><circle cx="605.7" cy="453.1" r="1.6"/><circle cx="604.5" cy="452.3" r="1.6"/><circle cx="605.7" cy="455.2" r="1.6"/><circle cx="605.9" cy="455.2" r="1.6"/><circle cx="605.9" cy="452.3" r="1.6"/><circle cx="606.4" cy="455.5" r="1.6"/><circle cx="606.6" cy="456.9" r="1.6"/><circle cx="606.1" cy="450.4" r="1.6"/><circle cx="606.1" cy="458.4" r="1.6"/><circle cx="606.6" cy="455.1" r="1.6"/><circle cx="607.2" cy="455.6" r="1.6"/><circle cx="608.7" cy="453.2" r="1.6"/><circle cx="607.5" cy="453.0" r="1.6"/><circle cx="607.9" cy="455.0" r="1.6"/><circle cx="607.6" cy="456.4" r="1.6"/><circle cx="608.7" cy="454.7" r="1.6"/><circle cx="608.4" cy="453.4" r="1.6"/><circle cx="607.9" cy="455.0" r="1.6"/><circle cx="608.4" cy="452.7" r="1.6"/><circle cx="609.4" cy="451.8" r="1.6"/><circle cx="609.0" cy="455.1" r="1.6"/><circle cx="610.1" cy="452.1" r="1.6"/><circle cx="610.0" cy="452.1" r="1.6"/><circle cx="610.0" cy="454.2" r="1.6"/><circle cx="609.5" cy="455.1" r="1.6"/><circle cx="610.9" cy="453.3" r="1.6"/><circle cx="610.5" cy="451.0" r="1.6"/><circle cx="611.3" cy="453.3" r="1.6"/><circle cx="610.3" cy="454.5" r="1.6"/><circle cx="610.4" cy="451.9" r="1.6"/><circle cx="610.3" cy="455.6" r="1.6"/><circle cx="612.3" cy="451.9" r="1.6"/><circle cx="611.3" cy="452.0" r="1.6"/><circle cx="611.6" cy="454.0" r="1.6"/><circle cx="612.6" cy="451.2" r="1.6"/><circle cx="612.4" cy="449.8" r="1.6"/><circle cx="613.0" cy="452.8" r="1.6"/><circle cx="612.3" cy="455.6" r="1.6"/><circle cx="612.8" cy="455.3" r="1.6"/><circle cx="613.4" cy="455.7" r="1.6"/><circle cx="612.9" cy="453.0" r="1.6"/><circle cx="613.5" cy="452.5" r="1.6"/><circle cx="614.2" cy="451.5" r="1.6"/><circle cx="614.2" cy="455.0" r="1.6"/><circle cx="613.2" cy="450.8" r="1.6"/><circle cx="613.8" cy="451.5" r="1.6"/><circle cx="614.6" cy="452.1" r="1.6"/><circle cx="614.6" cy="451.5" r="1.6"/><circle cx="614.8" cy="453.2" r="1.6"/><circle cx="615.3" cy="450.7" r="1.6"/><circle cx="615.2" cy="450.7" r="1.6"/><circle cx="615.3" cy="449.3" r="1.6"/><circle cx="616.0" cy="453.2" r="1.6"/><circle cx="615.8" cy="450.6" r="1.6"/><circle cx="615.8" cy="450.5" r="1.6"/><circle cx="615.6" cy="454.9" r="1.6"/><circle cx="617.7" cy="449.3" r="1.6"/><circle cx="616.1" cy="452.8" r="1.6"/><circle cx="617.0" cy="448.8" r="1.6"/><circle cx="616.2" cy="452.8" r="1.6"/><circle cx="616.4" cy="454.4" r="1.6"/><circle cx="617.2" cy="451.9" r="1.6"/><circle cx="617.6" cy="450.8" r="1.6"/><circle cx="617.7" cy="451.3" r="1.6"/><circle cx="618.5" cy="451.6" r="1.6"/><circle cx="618.2" cy="450.9" r="1.6"/><circle cx="618.1" cy="450.6" r="1.6"/><circle cx="618.6" cy="454.9" r="1.6"/><circle cx="619.2" cy="452.2" r="1.6"/><circle cx="619.7" cy="453.5" r="1.6"/><circle cx="619.3" cy="451.6" r="1.6"/><circle cx="619.0" cy="452.3" r="1.6"/><circle cx="619.5" cy="449.4" r="1.6"/><circle cx="619.3" cy="455.0" r="1.6"/><circle cx="620.1" cy="452.8" r="1.6"/><circle cx="620.3" cy="451.2" r="1.6"/><circle cx="620.6" cy="453.9" r="1.6"/><circle cx="620.5" cy="452.9" r="1.6"/><circle cx="621.2" cy="451.1" r="1.6"/><circle cx="621.1" cy="450.6" r="1.6"/><circle cx="621.4" cy="451.4" r="1.6"/><circle cx="621.9" cy="450.6" r="1.6"/><circle cx="622.3" cy="451.5" r="1.6"/><circle cx="621.5" cy="450.2" r="1.6"/><circle cx="622.3" cy="450.3" r="1.6"/><circle cx="622.9" cy="455.0" r="1.6"/><circle cx="622.6" cy="449.0" r="1.6"/><circle cx="622.6" cy="450.5" r="1.6"/><circle cx="622.1" cy="453.2" r="1.6"/><circle cx="623.9" cy="451.0" r="1.6"/><circle cx="623.5" cy="455.2" r="1.6"/><circle cx="623.0" cy="451.5" r="1.6"/><circle cx="623.7" cy="453.3" r="1.6"/><circle cx="623.3" cy="452.7" r="1.6"/><circle cx="624.0" cy="454.3" r="1.6"/><circle cx="623.6" cy="451.0" r="1.6"/><circle cx="624.2" cy="451.6" r="1.6"/><circle cx="624.9" cy="451.0" r="1.6"/><circle cx="625.9" cy="450.8" r="1.6"/><circle cx="625.3" cy="454.2" r="1.6"/><circle cx="625.6" cy="451.8" r="1.6"/><circle cx="625.1" cy="451.7" r="1.6"/><circle cx="625.9" cy="452.4" r="1.6"/><circle cx="626.0" cy="453.2" r="1.6"/><circle cx="625.6" cy="450.6" r="1.6"/><circle cx="626.8" cy="451.3" r="1.6"/><circle cx="625.8" cy="455.3" r="1.6"/><circle cx="626.3" cy="450.4" r="1.6"/><circle cx="627.2" cy="450.0" r="1.6"/><circle cx="626.7" cy="453.8" r="1.6"/><circle cx="626.9" cy="455.8" r="1.6"/><circle cx="627.4" cy="455.7" r="1.6"/><circle cx="627.7" cy="451.8" r="1.6"/><circle cx="627.5" cy="451.2" r="1.6"/><circle cx="627.8" cy="451.5" r="1.6"/><circle cx="628.5" cy="449.1" r="1.6"/><circle cx="628.0" cy="447.5" r="1.6"/><circle cx="629.2" cy="451.2" r="1.6"/><circle cx="628.8" cy="451.2" r="1.6"/><circle cx="629.4" cy="451.8" r="1.6"/><circle cx="629.5" cy="450.8" r="1.6"/><circle cx="629.4" cy="451.0" r="1.6"/><circle cx="628.9" cy="453.2" r="1.6"/><circle cx="629.2" cy="449.2" r="1.6"/><circle cx="630.3" cy="451.3" r="1.6"/><circle cx="630.5" cy="454.4" r="1.6"/><circle cx="631.1" cy="453.8" r="1.6"/><circle cx="630.5" cy="455.1" r="1.6"/><circle cx="630.4" cy="451.1" r="1.6"/><circle cx="631.4" cy="450.9" r="1.6"/><circle cx="631.2" cy="450.7" r="1.6"/><circle cx="631.9" cy="447.4" r="1.6"/><circle cx="632.1" cy="453.3" r="1.6"/><circle cx="631.8" cy="452.4" r="1.6"/><circle cx="631.6" cy="453.4" r="1.6"/><circle cx="633.4" cy="449.9" r="1.6"/><circle cx="633.0" cy="451.4" r="1.6"/><circle cx="632.5" cy="450.7" r="1.6"/><circle cx="632.7" cy="449.4" r="1.6"/><circle cx="632.5" cy="454.5" r="1.6"/><circle cx="633.2" cy="452.6" r="1.6"/><circle cx="633.5" cy="452.5" r="1.6"/><circle cx="633.0" cy="450.1" r="1.6"/><circle cx="634.1" cy="453.5" r="1.6"/><circle cx="633.5" cy="450.8" r="1.6"/><circle cx="633.8" cy="453.0" r="1.6"/><circle cx="634.5" cy="452.0" r="1.6"/><circle cx="634.3" cy="452.5" r="1.6"/><circle cx="634.8" cy="450.7" r="1.6"/><circle cx="635.1" cy="450.9" r="1.6"/><circle cx="635.6" cy="453.1" r="1.6"/><circle cx="635.1" cy="453.1" r="1.6"/><circle cx="635.6" cy="450.9" r="1.6"/><circle cx="635.4" cy="449.4" r="1.6"/><circle cx="635.5" cy="452.8" r="1.6"/><circle cx="636.7" cy="451.1" r="1.6"/><circle cx="636.5" cy="452.7" r="1.6"/><circle cx="636.9" cy="452.9" r="1.6"/><circle cx="637.3" cy="453.4" r="1.6"/><circle cx="636.7" cy="452.7" r="1.6"/><circle cx="636.3" cy="451.7" r="1.6"/><circle cx="637.4" cy="453.0" r="1.6"/><circle cx="637.5" cy="453.5" r="1.6"/><circle cx="638.3" cy="450.4" r="1.6"/><circle cx="637.8" cy="452.4" r="1.6"/><circle cx="638.4" cy="452.1" r="1.6"/><circle cx="638.7" cy="449.6" r="1.6"/><circle cx="638.9" cy="454.0" r="1.6"/><circle cx="639.2" cy="452.6" r="1.6"/><circle cx="638.9" cy="452.5" r="1.6"/><circle cx="639.2" cy="448.6" r="1.6"/><circle cx="639.2" cy="451.5" r="1.6"/><circle cx="639.4" cy="449.7" r="1.6"/><circle cx="639.7" cy="450.7" r="1.6"/><circle cx="640.0" cy="451.3" r="1.6"/><circle cx="640.3" cy="453.3" r="1.6"/><circle cx="640.5" cy="452.0" r="1.6"/><circle cx="640.1" cy="446.6" r="1.6"/><circle cx="640.6" cy="452.4" r="1.6"/><circle cx="640.9" cy="449.7" r="1.6"/><circle cx="640.7" cy="452.7" r="1.6"/><circle cx="641.2" cy="451.3" r="1.6"/><circle cx="642.1" cy="451.9" r="1.6"/><circle cx="642.7" cy="450.4" r="1.6"/><circle cx="642.4" cy="452.0" r="1.6"/><circle cx="641.9" cy="450.6" r="1.6"/><circle cx="642.2" cy="448.2" r="1.6"/><circle cx="642.7" cy="448.7" r="1.6"/><circle cx="643.5" cy="448.8" r="1.6"/><circle cx="642.8" cy="450.7" r="1.6"/><circle cx="643.0" cy="450.7" r="1.6"/><circle cx="643.2" cy="447.4" r="1.6"/><circle cx="642.6" cy="447.8" r="1.6"/><circle cx="644.4" cy="451.8" r="1.6"/><circle cx="644.1" cy="449.8" r="1.6"/><circle cx="644.1" cy="451.6" r="1.6"/><circle cx="643.8" cy="449.1" r="1.6"/><circle cx="644.2" cy="454.1" r="1.6"/><circle cx="644.4" cy="454.0" r="1.6"/><circle cx="644.8" cy="456.6" r="1.6"/><circle cx="645.2" cy="451.3" r="1.6"/><circle cx="645.9" cy="453.5" r="1.6"/><circle cx="646.0" cy="448.7" r="1.6"/><circle cx="646.3" cy="455.7" r="1.6"/><circle cx="646.0" cy="450.3" r="1.6"/><circle cx="645.8" cy="454.2" r="1.6"/><circle cx="646.5" cy="451.7" r="1.6"/><circle cx="646.1" cy="455.8" r="1.6"/><circle cx="647.2" cy="451.5" r="1.6"/><circle cx="647.6" cy="449.0" r="1.6"/><circle cx="647.6" cy="448.9" r="1.6"/><circle cx="648.0" cy="450.6" r="1.6"/><circle cx="648.1" cy="450.1" r="1.6"/><circle cx="648.0" cy="453.8" r="1.6"/><circle cx="647.6" cy="451.2" r="1.6"/><circle cx="647.9" cy="452.9" r="1.6"/><circle cx="648.2" cy="449.9" r="1.6"/><circle cx="648.5" cy="453.3" r="1.6"/><circle cx="648.4" cy="450.5" r="1.6"/><circle cx="648.9" cy="449.2" r="1.6"/><circle cx="648.9" cy="450.0" r="1.6"/><circle cx="649.5" cy="446.9" r="1.6"/><circle cx="649.7" cy="447.6" r="1.6"/><circle cx="649.8" cy="454.7" r="1.6"/><circle cx="649.6" cy="450.0" r="1.6"/><circle cx="650.1" cy="452.3" r="1.6"/><circle cx="650.2" cy="446.3" r="1.6"/><circle cx="650.0" cy="450.6" r="1.6"/><circle cx="650.9" cy="452.6" r="1.6"/><circle cx="650.8" cy="451.8" r="1.6"/><circle cx="650.8" cy="453.3" r="1.6"/><circle cx="651.4" cy="448.9" r="1.6"/><circle cx="651.7" cy="454.4" r="1.6"/><circle cx="651.5" cy="447.7" r="1.6"/><circle cx="651.6" cy="447.9" r="1.6"/><circle cx="652.2" cy="451.4" r="1.6"/><circle cx="652.3" cy="451.1" r="1.6"/><circle cx="653.1" cy="450.1" r="1.6"/><circle cx="652.3" cy="445.6" r="1.6"/><circle cx="653.1" cy="449.2" r="1.6"/><circle cx="653.1" cy="451.8" r="1.6"/><circle cx="653.6" cy="447.1" r="1.6"/><circle cx="653.2" cy="450.9" r="1.6"/><circle cx="653.7" cy="453.2" r="1.6"/><circle cx="653.8" cy="446.0" r="1.6"/><circle cx="654.7" cy="446.9" r="1.6"/><circle cx="654.0" cy="451.3" r="1.6"/><circle cx="654.2" cy="455.1" r="1.6"/><circle cx="654.9" cy="451.4" r="1.6"/><circle cx="654.8" cy="454.8" r="1.6"/><circle cx="655.4" cy="448.7" r="1.6"/><circle cx="655.9" cy="446.7" r="1.6"/><circle cx="655.4" cy="450.6" r="1.6"/><circle cx="655.9" cy="448.1" r="1.6"/><circle cx="656.6" cy="452.8" r="1.6"/><circle cx="655.8" cy="450.6" r="1.6"/><circle cx="656.1" cy="449.1" r="1.6"/><circle cx="657.0" cy="450.2" r="1.6"/><circle cx="656.8" cy="450.2" r="1.6"/><circle cx="656.5" cy="452.5" r="1.6"/><circle cx="656.9" cy="452.7" r="1.6"/><circle cx="657.2" cy="449.2" r="1.6"/><circle cx="658.2" cy="450.6" r="1.6"/><circle cx="657.5" cy="449.1" r="1.6"/><circle cx="658.2" cy="454.3" r="1.6"/><circle cx="658.4" cy="449.5" r="1.6"/><circle cx="658.0" cy="448.9" r="1.6"/><circle cx="658.6" cy="451.0" r="1.6"/><circle cx="658.5" cy="453.5" r="1.6"/><circle cx="658.6" cy="448.9" r="1.6"/><circle cx="659.4" cy="451.7" r="1.6"/><circle cx="659.2" cy="453.0" r="1.6"/><circle cx="659.0" cy="454.7" r="1.6"/><circle cx="660.7" cy="455.4" r="1.6"/><circle cx="660.0" cy="455.4" r="1.6"/><circle cx="660.2" cy="453.8" r="1.6"/><circle cx="660.3" cy="451.0" r="1.6"/><circle cx="660.8" cy="446.5" r="1.6"/><circle cx="660.7" cy="454.5" r="1.6"/><circle cx="659.8" cy="451.4" r="1.6"/><circle cx="661.6" cy="451.2" r="1.6"/><circle cx="661.5" cy="453.5" r="1.6"/><circle cx="661.7" cy="446.2" r="1.6"/><circle cx="661.4" cy="449.7" r="1.6"/><circle cx="662.1" cy="449.4" r="1.6"/><circle cx="662.2" cy="453.9" r="1.6"/><circle cx="661.2" cy="452.7" r="1.6"/><circle cx="663.0" cy="451.5" r="1.6"/><circle cx="662.8" cy="450.3" r="1.6"/><circle cx="663.1" cy="450.6" r="1.6"/><circle cx="662.9" cy="451.6" r="1.6"/><circle cx="663.1" cy="449.9" r="1.6"/><circle cx="663.5" cy="447.5" r="1.6"/><circle cx="664.0" cy="449.6" r="1.6"/><circle cx="663.5" cy="449.5" r="1.6"/><circle cx="663.6" cy="452.4" r="1.6"/><circle cx="664.6" cy="453.3" r="1.6"/><circle cx="664.4" cy="450.7" r="1.6"/><circle cx="664.4" cy="447.6" r="1.6"/><circle cx="665.0" cy="449.9" r="1.6"/><circle cx="665.6" cy="448.5" r="1.6"/><circle cx="665.8" cy="450.8" r="1.6"/><circle cx="665.3" cy="448.5" r="1.6"/><circle cx="665.4" cy="451.9" r="1.6"/><circle cx="665.8" cy="450.3" r="1.6"/><circle cx="666.6" cy="448.0" r="1.6"/><circle cx="666.2" cy="449.0" r="1.6"/><circle cx="666.3" cy="445.9" r="1.6"/><circle cx="666.4" cy="448.8" r="1.6"/><circle cx="667.1" cy="451.3" r="1.6"/><circle cx="666.5" cy="448.8" r="1.6"/><circle cx="666.9" cy="449.9" r="1.6"/><circle cx="667.9" cy="447.9" r="1.6"/><circle cx="668.4" cy="446.8" r="1.6"/><circle cx="667.8" cy="445.4" r="1.6"/><circle cx="667.9" cy="447.5" r="1.6"/><circle cx="668.7" cy="449.6" r="1.6"/><circle cx="668.5" cy="445.6" r="1.6"/><circle cx="668.7" cy="446.0" r="1.6"/><circle cx="668.8" cy="446.0" r="1.6"/><circle cx="668.9" cy="446.5" r="1.6"/><circle cx="669.2" cy="446.2" r="1.6"/><circle cx="669.0" cy="446.8" r="1.6"/><circle cx="670.0" cy="447.8" r="1.6"/><circle cx="669.8" cy="444.2" r="1.6"/><circle cx="669.7" cy="444.1" r="1.6"/><circle cx="670.1" cy="445.9" r="1.6"/><circle cx="669.9" cy="448.0" r="1.6"/><circle cx="670.2" cy="445.1" r="1.6"/><circle cx="670.7" cy="448.4" r="1.6"/><circle cx="671.9" cy="445.8" r="1.6"/><circle cx="671.3" cy="445.7" r="1.6"/><circle cx="671.5" cy="446.2" r="1.6"/><circle cx="672.8" cy="444.1" r="1.6"/><circle cx="672.0" cy="444.7" r="1.6"/><circle cx="672.3" cy="445.4" r="1.6"/><circle cx="672.6" cy="444.0" r="1.6"/><circle cx="673.4" cy="447.2" r="1.6"/><circle cx="672.1" cy="448.4" r="1.6"/><circle cx="672.8" cy="443.8" r="1.6"/><circle cx="673.4" cy="445.4" r="1.6"/><circle cx="673.7" cy="445.4" r="1.6"/><circle cx="674.0" cy="447.1" r="1.6"/><circle cx="673.9" cy="447.1" r="1.6"/><circle cx="673.9" cy="445.9" r="1.6"/><circle cx="674.4" cy="448.5" r="1.6"/><circle cx="674.2" cy="452.2" r="1.6"/><circle cx="675.3" cy="444.1" r="1.6"/><circle cx="675.2" cy="446.7" r="1.6"/><circle cx="675.1" cy="445.0" r="1.6"/><circle cx="675.9" cy="444.9" r="1.6"/><circle cx="675.4" cy="445.2" r="1.6"/><circle cx="676.4" cy="449.9" r="1.6"/><circle cx="675.3" cy="445.9" r="1.6"/><circle cx="676.1" cy="446.0" r="1.6"/><circle cx="676.1" cy="444.7" r="1.6"/><circle cx="676.5" cy="444.8" r="1.6"/><circle cx="676.9" cy="452.1" r="1.6"/><circle cx="676.7" cy="450.9" r="1.6"/><circle cx="677.1" cy="446.1" r="1.6"/><circle cx="677.1" cy="445.7" r="1.6"/><circle cx="677.4" cy="449.1" r="1.6"/><circle cx="434.0" cy="428.5" r="1.6"/><circle cx="438.3" cy="429.8" r="1.6"/><circle cx="511.3" cy="450.7" r="1.6"/><circle cx="542.7" cy="470.7" r="1.6"/><circle cx="581.1" cy="447.5" r="1.6"/><circle cx="248.5" cy="152.4" r="1.6"/><circle cx="262.4" cy="154.3" r="1.6"/><circle cx="622.9" cy="460.5" r="1.6"/><circle cx="347.2" cy="419.5" r="1.6"/><circle cx="332.2" cy="375.2" r="1.6"/></g>
</svg>
</body></html>
